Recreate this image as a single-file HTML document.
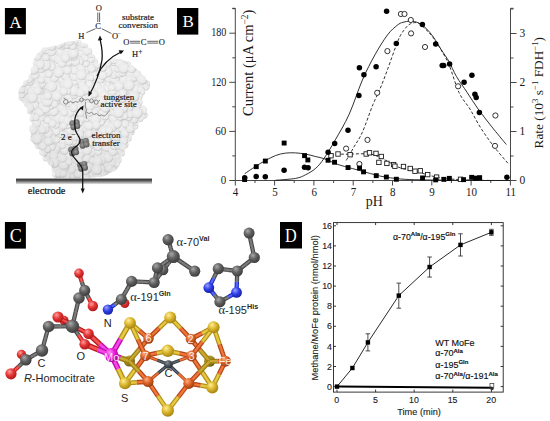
<!DOCTYPE html>
<html><head><meta charset="utf-8"><style>
html,body{margin:0;padding:0;background:#fff;width:550px;height:421px;overflow:hidden}
svg{display:block}
</style></head><body>
<svg width="550" height="421" viewBox="0 0 550 421">
<rect width="550" height="421" fill="#fff"/>
<rect x="4.9" y="8" width="21" height="26.3" fill="#000"/>
<text x="15.55" y="27.5" font-family='"Liberation Serif", serif' font-size="17.2" fill="#fff" text-anchor="middle">A</text>
<defs><radialGradient id="bub" cx="0.45" cy="0.42" r="0.6"><stop offset="0" stop-color="#f4f4f4"/><stop offset="0.7" stop-color="#ebebeb"/><stop offset="0.9" stop-color="#d4d4d4"/><stop offset="1" stop-color="#bcbcbc"/></radialGradient><clipPath id="blobclip"><path d="M65.5,42.0 C66.8,41.8 70.4,40.8 73.1,40.9 C75.8,41.0 79.6,41.6 81.8,42.5 C84.0,43.4 84.9,44.9 86.2,46.4 C87.5,47.9 88.4,50.0 89.5,51.8 C90.6,53.6 91.4,55.5 92.7,57.3 C94.0,59.1 95.8,61.3 97.1,62.7 C98.4,64.1 99.1,65.4 100.4,65.5 C101.7,65.6 103.2,64.2 105.0,63.5 C106.8,62.8 109.0,61.8 111.3,61.0 C113.5,60.2 116.0,58.9 118.5,59.0 C121.0,59.1 123.2,60.0 126.0,61.5 C128.8,63.0 132.9,66.1 135.6,68.3 C138.3,70.5 140.4,72.9 142.3,74.9 C144.2,77.0 145.9,79.0 147.0,80.6 C148.1,82.2 149.2,83.1 148.9,84.4 C148.6,85.7 146.4,86.9 145.1,88.2 C143.8,89.5 142.1,90.4 141.3,92.0 C140.5,93.6 140.2,95.2 140.4,97.7 C140.6,100.2 141.2,104.7 142.3,107.2 C143.4,109.7 146.5,111.1 147.0,112.6 C147.5,114.1 146.4,114.8 145.1,116.4 C143.8,118.0 141.0,119.9 139.4,122.1 C137.8,124.3 137.0,127.5 135.6,129.7 C134.2,131.9 132.2,133.2 130.9,135.4 C129.6,137.6 129.1,140.5 128.0,143.0 C126.9,145.5 125.5,148.1 124.2,150.6 C122.9,153.1 121.4,156.0 120.4,158.2 C119.5,160.4 119.1,162.0 118.5,163.9 C117.9,165.8 118.2,168.0 116.6,169.6 C115.0,171.2 111.5,172.2 109.0,173.4 C106.5,174.6 106.2,175.7 101.4,176.5 C96.6,177.3 86.9,177.8 80.0,178.0 C73.1,178.2 64.2,178.0 60.0,178.0 C55.8,178.0 55.5,179.0 54.7,178.2 C53.9,177.4 55.4,175.2 55.0,173.4 C54.6,171.7 53.5,169.6 52.3,167.7 C51.1,165.8 49.1,163.9 47.6,162.0 C46.1,160.1 44.7,158.2 43.5,156.3 C42.3,154.4 42.1,152.8 40.3,150.6 C38.5,148.4 34.4,145.8 32.8,143.0 C31.2,140.2 31.0,136.7 30.9,133.5 C30.8,130.3 32.0,127.1 31.9,124.0 C31.8,120.9 31.4,117.6 30.5,114.8 C29.6,112.0 27.9,109.7 26.2,107.2 C24.5,104.7 21.8,102.1 20.5,99.6 C19.2,97.1 18.5,94.2 18.6,92.0 C18.8,89.8 20.0,88.2 21.4,86.3 C22.8,84.4 25.5,82.8 27.1,80.6 C28.7,78.4 29.8,75.8 30.9,73.0 C32.0,70.2 33.2,66.0 33.8,63.5 C34.4,61.0 33.6,59.8 34.7,57.8 C35.8,55.8 38.2,52.9 40.4,51.2 C42.6,49.5 45.1,48.4 48.0,47.4 C50.9,46.4 54.6,46.4 57.5,45.5 C60.4,44.6 64.2,42.6 65.5,42.0"/></clipPath></defs>
<defs><filter id="soft" x="-5%" y="-5%" width="110%" height="110%"><feGaussianBlur stdDeviation="0.5"/></filter></defs>
<g filter="url(#soft)">
<g>
<circle cx="70.5" cy="44.5" r="3.3" fill="url(#bub)"/>
<circle cx="78.2" cy="43.5" r="3.4" fill="url(#bub)"/>
<circle cx="84.6" cy="46.8" r="3.5" fill="url(#bub)"/>
<circle cx="88.4" cy="51.6" r="3.8" fill="url(#bub)"/>
<circle cx="91.1" cy="57.9" r="4.2" fill="url(#bub)"/>
<circle cx="93.8" cy="62.3" r="4.0" fill="url(#bub)"/>
<circle cx="98.4" cy="67.4" r="3.0" fill="url(#bub)"/>
<circle cx="102.1" cy="66.8" r="4.3" fill="url(#bub)"/>
<circle cx="106.8" cy="65.4" r="3.1" fill="url(#bub)"/>
<circle cx="113.2" cy="61.8" r="3.8" fill="url(#bub)"/>
<circle cx="120.1" cy="62.7" r="3.5" fill="url(#bub)"/>
<circle cx="126.8" cy="65.0" r="4.0" fill="url(#bub)"/>
<circle cx="130.6" cy="68.8" r="3.7" fill="url(#bub)"/>
<circle cx="137.1" cy="74.0" r="3.7" fill="url(#bub)"/>
<circle cx="141.8" cy="79.0" r="3.7" fill="url(#bub)"/>
<circle cx="146.4" cy="83.9" r="3.7" fill="url(#bub)"/>
<circle cx="145.4" cy="86.5" r="4.0" fill="url(#bub)"/>
<circle cx="141.0" cy="91.7" r="4.1" fill="url(#bub)"/>
<circle cx="138.5" cy="95.9" r="4.3" fill="url(#bub)"/>
<circle cx="139.1" cy="101.9" r="3.4" fill="url(#bub)"/>
<circle cx="142.6" cy="109.6" r="4.2" fill="url(#bub)"/>
<circle cx="143.3" cy="114.8" r="4.3" fill="url(#bub)"/>
<circle cx="139.9" cy="118.3" r="3.7" fill="url(#bub)"/>
<circle cx="134.7" cy="126.0" r="3.6" fill="url(#bub)"/>
<circle cx="130.6" cy="131.4" r="3.9" fill="url(#bub)"/>
<circle cx="128.0" cy="138.0" r="3.7" fill="url(#bub)"/>
<circle cx="124.5" cy="144.5" r="3.9" fill="url(#bub)"/>
<circle cx="121.3" cy="153.0" r="3.6" fill="url(#bub)"/>
<circle cx="117.4" cy="159.8" r="4.1" fill="url(#bub)"/>
<circle cx="116.4" cy="163.9" r="3.2" fill="url(#bub)"/>
<circle cx="112.3" cy="168.6" r="3.3" fill="url(#bub)"/>
<circle cx="105.3" cy="171.8" r="3.5" fill="url(#bub)"/>
<circle cx="55.1" cy="173.7" r="3.2" fill="url(#bub)"/>
<circle cx="55.2" cy="168.2" r="3.6" fill="url(#bub)"/>
<circle cx="51.8" cy="161.7" r="3.9" fill="url(#bub)"/>
<circle cx="46.5" cy="157.4" r="3.9" fill="url(#bub)"/>
<circle cx="43.0" cy="152.0" r="3.8" fill="url(#bub)"/>
<circle cx="38.1" cy="145.5" r="3.2" fill="url(#bub)"/>
<circle cx="34.0" cy="137.9" r="3.9" fill="url(#bub)"/>
<circle cx="33.2" cy="128.8" r="4.1" fill="url(#bub)"/>
<circle cx="33.6" cy="118.4" r="3.9" fill="url(#bub)"/>
<circle cx="30.0" cy="110.9" r="3.1" fill="url(#bub)"/>
<circle cx="26.7" cy="103.3" r="3.1" fill="url(#bub)"/>
<circle cx="21.7" cy="97.2" r="3.2" fill="url(#bub)"/>
<circle cx="22.4" cy="90.1" r="3.4" fill="url(#bub)"/>
<circle cx="26.7" cy="83.6" r="3.6" fill="url(#bub)"/>
<circle cx="32.2" cy="78.1" r="4.0" fill="url(#bub)"/>
<circle cx="34.1" cy="70.3" r="3.3" fill="url(#bub)"/>
<circle cx="36.4" cy="63.4" r="3.6" fill="url(#bub)"/>
<circle cx="39.8" cy="56.1" r="3.5" fill="url(#bub)"/>
<circle cx="44.8" cy="51.0" r="3.8" fill="url(#bub)"/>
<circle cx="54.4" cy="49.2" r="3.8" fill="url(#bub)"/>
<circle cx="61.6" cy="46.7" r="3.0" fill="url(#bub)"/>
</g>
<g clip-path="url(#blobclip)">
<path d="M65.5,42.0 C66.8,41.8 70.4,40.8 73.1,40.9 C75.8,41.0 79.6,41.6 81.8,42.5 C84.0,43.4 84.9,44.9 86.2,46.4 C87.5,47.9 88.4,50.0 89.5,51.8 C90.6,53.6 91.4,55.5 92.7,57.3 C94.0,59.1 95.8,61.3 97.1,62.7 C98.4,64.1 99.1,65.4 100.4,65.5 C101.7,65.6 103.2,64.2 105.0,63.5 C106.8,62.8 109.0,61.8 111.3,61.0 C113.5,60.2 116.0,58.9 118.5,59.0 C121.0,59.1 123.2,60.0 126.0,61.5 C128.8,63.0 132.9,66.1 135.6,68.3 C138.3,70.5 140.4,72.9 142.3,74.9 C144.2,77.0 145.9,79.0 147.0,80.6 C148.1,82.2 149.2,83.1 148.9,84.4 C148.6,85.7 146.4,86.9 145.1,88.2 C143.8,89.5 142.1,90.4 141.3,92.0 C140.5,93.6 140.2,95.2 140.4,97.7 C140.6,100.2 141.2,104.7 142.3,107.2 C143.4,109.7 146.5,111.1 147.0,112.6 C147.5,114.1 146.4,114.8 145.1,116.4 C143.8,118.0 141.0,119.9 139.4,122.1 C137.8,124.3 137.0,127.5 135.6,129.7 C134.2,131.9 132.2,133.2 130.9,135.4 C129.6,137.6 129.1,140.5 128.0,143.0 C126.9,145.5 125.5,148.1 124.2,150.6 C122.9,153.1 121.4,156.0 120.4,158.2 C119.5,160.4 119.1,162.0 118.5,163.9 C117.9,165.8 118.2,168.0 116.6,169.6 C115.0,171.2 111.5,172.2 109.0,173.4 C106.5,174.6 106.2,175.7 101.4,176.5 C96.6,177.3 86.9,177.8 80.0,178.0 C73.1,178.2 64.2,178.0 60.0,178.0 C55.8,178.0 55.5,179.0 54.7,178.2 C53.9,177.4 55.4,175.2 55.0,173.4 C54.6,171.7 53.5,169.6 52.3,167.7 C51.1,165.8 49.1,163.9 47.6,162.0 C46.1,160.1 44.7,158.2 43.5,156.3 C42.3,154.4 42.1,152.8 40.3,150.6 C38.5,148.4 34.4,145.8 32.8,143.0 C31.2,140.2 31.0,136.7 30.9,133.5 C30.8,130.3 32.0,127.1 31.9,124.0 C31.8,120.9 31.4,117.6 30.5,114.8 C29.6,112.0 27.9,109.7 26.2,107.2 C24.5,104.7 21.8,102.1 20.5,99.6 C19.2,97.1 18.5,94.2 18.6,92.0 C18.8,89.8 20.0,88.2 21.4,86.3 C22.8,84.4 25.5,82.8 27.1,80.6 C28.7,78.4 29.8,75.8 30.9,73.0 C32.0,70.2 33.2,66.0 33.8,63.5 C34.4,61.0 33.6,59.8 34.7,57.8 C35.8,55.8 38.2,52.9 40.4,51.2 C42.6,49.5 45.1,48.4 48.0,47.4 C50.9,46.4 54.6,46.4 57.5,45.5 C60.4,44.6 64.2,42.6 65.5,42.0" fill="#e0e0e0"/>
<circle cx="54.6" cy="169.1" r="3.7" fill="url(#bub)"/>
<circle cx="111.9" cy="171.5" r="3.7" fill="url(#bub)"/>
<circle cx="42.6" cy="51.3" r="4.4" fill="url(#bub)"/>
<circle cx="88.9" cy="72.9" r="4.1" fill="url(#bub)"/>
<circle cx="36.8" cy="79.1" r="4.4" fill="url(#bub)"/>
<circle cx="77.4" cy="42.1" r="3.8" fill="url(#bub)"/>
<circle cx="44.6" cy="48.9" r="4.6" fill="url(#bub)"/>
<circle cx="76.2" cy="152.0" r="5.1" fill="url(#bub)"/>
<circle cx="68.4" cy="97.9" r="5.2" fill="url(#bub)"/>
<circle cx="63.1" cy="141.8" r="4.9" fill="url(#bub)"/>
<circle cx="69.6" cy="133.2" r="5.1" fill="url(#bub)"/>
<circle cx="119.4" cy="81.8" r="3.9" fill="url(#bub)"/>
<circle cx="139.2" cy="119.0" r="4.3" fill="url(#bub)"/>
<circle cx="46.1" cy="69.0" r="3.6" fill="url(#bub)"/>
<circle cx="100.8" cy="149.9" r="4.4" fill="url(#bub)"/>
<circle cx="86.3" cy="75.4" r="3.8" fill="url(#bub)"/>
<circle cx="40.1" cy="117.0" r="5.4" fill="url(#bub)"/>
<circle cx="19.3" cy="96.8" r="4.6" fill="url(#bub)"/>
<circle cx="45.4" cy="85.4" r="4.0" fill="url(#bub)"/>
<circle cx="31.5" cy="83.5" r="5.0" fill="url(#bub)"/>
<circle cx="119.1" cy="139.4" r="4.2" fill="url(#bub)"/>
<circle cx="78.6" cy="57.9" r="4.9" fill="url(#bub)"/>
<circle cx="109.0" cy="77.8" r="5.0" fill="url(#bub)"/>
<circle cx="121.5" cy="59.4" r="4.2" fill="url(#bub)"/>
<circle cx="70.4" cy="72.9" r="4.5" fill="url(#bub)"/>
<circle cx="83.8" cy="164.6" r="3.4" fill="url(#bub)"/>
<circle cx="57.9" cy="65.7" r="5.2" fill="url(#bub)"/>
<circle cx="54.6" cy="73.0" r="4.9" fill="url(#bub)"/>
<circle cx="41.3" cy="125.9" r="5.0" fill="url(#bub)"/>
<circle cx="92.8" cy="131.5" r="3.5" fill="url(#bub)"/>
<circle cx="23.1" cy="96.0" r="5.4" fill="url(#bub)"/>
<circle cx="96.5" cy="79.8" r="3.9" fill="url(#bub)"/>
<circle cx="105.6" cy="151.4" r="3.5" fill="url(#bub)"/>
<circle cx="84.1" cy="83.7" r="4.0" fill="url(#bub)"/>
<circle cx="114.8" cy="157.5" r="4.7" fill="url(#bub)"/>
<circle cx="85.8" cy="101.4" r="5.0" fill="url(#bub)"/>
<circle cx="59.4" cy="82.1" r="4.3" fill="url(#bub)"/>
<circle cx="105.9" cy="63.2" r="5.4" fill="url(#bub)"/>
<circle cx="117.2" cy="128.7" r="4.2" fill="url(#bub)"/>
<circle cx="42.6" cy="75.2" r="4.9" fill="url(#bub)"/>
<circle cx="60.1" cy="145.4" r="3.3" fill="url(#bub)"/>
<circle cx="105.5" cy="123.3" r="5.0" fill="url(#bub)"/>
<circle cx="53.8" cy="116.8" r="4.5" fill="url(#bub)"/>
<circle cx="35.6" cy="113.1" r="4.1" fill="url(#bub)"/>
<circle cx="102.4" cy="119.2" r="4.0" fill="url(#bub)"/>
<circle cx="119.8" cy="92.1" r="4.4" fill="url(#bub)"/>
<circle cx="89.6" cy="177.9" r="5.1" fill="url(#bub)"/>
<circle cx="100.8" cy="122.3" r="3.8" fill="url(#bub)"/>
<circle cx="51.8" cy="136.5" r="3.8" fill="url(#bub)"/>
<circle cx="97.7" cy="141.4" r="5.2" fill="url(#bub)"/>
<circle cx="79.5" cy="168.8" r="4.6" fill="url(#bub)"/>
<circle cx="75.1" cy="161.2" r="3.6" fill="url(#bub)"/>
<circle cx="57.7" cy="157.2" r="5.2" fill="url(#bub)"/>
<circle cx="89.0" cy="158.0" r="5.3" fill="url(#bub)"/>
<circle cx="40.6" cy="83.5" r="5.4" fill="url(#bub)"/>
<circle cx="56.9" cy="86.2" r="3.9" fill="url(#bub)"/>
<circle cx="26.2" cy="102.5" r="4.0" fill="url(#bub)"/>
<circle cx="122.8" cy="84.5" r="3.8" fill="url(#bub)"/>
<circle cx="107.0" cy="84.8" r="3.3" fill="url(#bub)"/>
<circle cx="89.7" cy="144.4" r="5.1" fill="url(#bub)"/>
<circle cx="19.7" cy="90.5" r="5.1" fill="url(#bub)"/>
<circle cx="60.0" cy="52.3" r="5.4" fill="url(#bub)"/>
<circle cx="94.2" cy="61.0" r="4.2" fill="url(#bub)"/>
<circle cx="75.6" cy="103.5" r="4.8" fill="url(#bub)"/>
<circle cx="96.7" cy="155.0" r="3.9" fill="url(#bub)"/>
<circle cx="87.2" cy="133.2" r="5.3" fill="url(#bub)"/>
<circle cx="88.8" cy="167.0" r="4.2" fill="url(#bub)"/>
<circle cx="119.1" cy="157.9" r="4.6" fill="url(#bub)"/>
<circle cx="68.3" cy="62.2" r="4.0" fill="url(#bub)"/>
<circle cx="62.2" cy="45.5" r="4.0" fill="url(#bub)"/>
<circle cx="91.1" cy="152.6" r="4.3" fill="url(#bub)"/>
<circle cx="137.8" cy="126.5" r="5.1" fill="url(#bub)"/>
<circle cx="142.3" cy="111.5" r="5.1" fill="url(#bub)"/>
<circle cx="100.0" cy="169.5" r="5.1" fill="url(#bub)"/>
<circle cx="113.8" cy="68.0" r="3.8" fill="url(#bub)"/>
<circle cx="61.9" cy="127.4" r="3.3" fill="url(#bub)"/>
<circle cx="130.1" cy="138.9" r="4.9" fill="url(#bub)"/>
<circle cx="123.4" cy="79.5" r="5.6" fill="url(#bub)"/>
<circle cx="118.4" cy="103.4" r="5.2" fill="url(#bub)"/>
<circle cx="84.8" cy="70.5" r="4.9" fill="url(#bub)"/>
<circle cx="51.8" cy="95.0" r="3.2" fill="url(#bub)"/>
<circle cx="96.2" cy="108.9" r="4.2" fill="url(#bub)"/>
<circle cx="29.7" cy="101.4" r="5.1" fill="url(#bub)"/>
<circle cx="87.2" cy="125.2" r="4.9" fill="url(#bub)"/>
<circle cx="82.2" cy="118.8" r="4.1" fill="url(#bub)"/>
<circle cx="113.5" cy="118.2" r="4.4" fill="url(#bub)"/>
<circle cx="114.4" cy="62.4" r="3.6" fill="url(#bub)"/>
<circle cx="67.8" cy="51.3" r="3.7" fill="url(#bub)"/>
<circle cx="142.4" cy="109.6" r="4.4" fill="url(#bub)"/>
<circle cx="30.3" cy="128.5" r="3.8" fill="url(#bub)"/>
<circle cx="34.1" cy="100.7" r="5.0" fill="url(#bub)"/>
<circle cx="107.5" cy="100.8" r="5.1" fill="url(#bub)"/>
<circle cx="138.4" cy="86.4" r="5.3" fill="url(#bub)"/>
<circle cx="81.1" cy="147.9" r="4.5" fill="url(#bub)"/>
<circle cx="31.9" cy="111.6" r="3.7" fill="url(#bub)"/>
<circle cx="89.8" cy="141.5" r="5.3" fill="url(#bub)"/>
<circle cx="54.3" cy="57.4" r="4.3" fill="url(#bub)"/>
<circle cx="58.4" cy="59.8" r="4.2" fill="url(#bub)"/>
<circle cx="115.0" cy="97.0" r="3.8" fill="url(#bub)"/>
<circle cx="74.5" cy="84.3" r="5.4" fill="url(#bub)"/>
<circle cx="73.8" cy="145.0" r="3.7" fill="url(#bub)"/>
<circle cx="113.6" cy="134.3" r="4.0" fill="url(#bub)"/>
<circle cx="95.2" cy="127.8" r="3.3" fill="url(#bub)"/>
<circle cx="93.1" cy="64.8" r="5.5" fill="url(#bub)"/>
<circle cx="49.0" cy="144.7" r="4.8" fill="url(#bub)"/>
<circle cx="122.4" cy="114.6" r="5.6" fill="url(#bub)"/>
<circle cx="56.3" cy="113.4" r="4.5" fill="url(#bub)"/>
<circle cx="74.6" cy="82.0" r="3.5" fill="url(#bub)"/>
<circle cx="108.4" cy="164.1" r="5.0" fill="url(#bub)"/>
<circle cx="68.6" cy="145.7" r="4.9" fill="url(#bub)"/>
<circle cx="48.7" cy="78.7" r="5.5" fill="url(#bub)"/>
<circle cx="56.2" cy="149.9" r="3.8" fill="url(#bub)"/>
<circle cx="39.3" cy="135.0" r="4.4" fill="url(#bub)"/>
<circle cx="93.2" cy="175.1" r="4.4" fill="url(#bub)"/>
<circle cx="53.8" cy="168.3" r="3.9" fill="url(#bub)"/>
<circle cx="51.3" cy="65.5" r="4.2" fill="url(#bub)"/>
<circle cx="103.9" cy="63.3" r="5.5" fill="url(#bub)"/>
<circle cx="79.4" cy="130.9" r="5.2" fill="url(#bub)"/>
<circle cx="86.0" cy="63.6" r="3.4" fill="url(#bub)"/>
<circle cx="105.7" cy="70.5" r="5.3" fill="url(#bub)"/>
<circle cx="87.2" cy="127.6" r="5.3" fill="url(#bub)"/>
<circle cx="73.7" cy="167.7" r="5.3" fill="url(#bub)"/>
<circle cx="96.5" cy="91.8" r="4.2" fill="url(#bub)"/>
<circle cx="113.9" cy="125.5" r="4.9" fill="url(#bub)"/>
<circle cx="130.5" cy="73.2" r="5.0" fill="url(#bub)"/>
<circle cx="84.9" cy="106.2" r="4.9" fill="url(#bub)"/>
<circle cx="56.1" cy="170.1" r="4.9" fill="url(#bub)"/>
<circle cx="88.8" cy="125.5" r="5.0" fill="url(#bub)"/>
<circle cx="118.7" cy="166.0" r="3.9" fill="url(#bub)"/>
<circle cx="137.7" cy="71.0" r="5.3" fill="url(#bub)"/>
<circle cx="133.5" cy="131.7" r="3.6" fill="url(#bub)"/>
<circle cx="37.2" cy="145.4" r="3.7" fill="url(#bub)"/>
<circle cx="120.2" cy="116.9" r="3.7" fill="url(#bub)"/>
<circle cx="85.9" cy="157.6" r="5.1" fill="url(#bub)"/>
<circle cx="127.8" cy="100.6" r="5.5" fill="url(#bub)"/>
<circle cx="31.8" cy="138.3" r="4.1" fill="url(#bub)"/>
<circle cx="103.7" cy="133.8" r="4.3" fill="url(#bub)"/>
<circle cx="96.8" cy="172.5" r="5.1" fill="url(#bub)"/>
<circle cx="114.5" cy="78.3" r="5.4" fill="url(#bub)"/>
<circle cx="80.7" cy="153.2" r="5.1" fill="url(#bub)"/>
<circle cx="55.9" cy="70.0" r="4.5" fill="url(#bub)"/>
<circle cx="62.5" cy="78.7" r="5.5" fill="url(#bub)"/>
<circle cx="81.5" cy="52.4" r="4.8" fill="url(#bub)"/>
<circle cx="102.3" cy="144.8" r="5.5" fill="url(#bub)"/>
<circle cx="72.8" cy="174.1" r="5.1" fill="url(#bub)"/>
<circle cx="84.4" cy="46.3" r="4.1" fill="url(#bub)"/>
<circle cx="84.9" cy="98.2" r="3.3" fill="url(#bub)"/>
<circle cx="74.5" cy="76.0" r="5.1" fill="url(#bub)"/>
<circle cx="146.5" cy="85.2" r="3.5" fill="url(#bub)"/>
<circle cx="24.3" cy="104.7" r="4.3" fill="url(#bub)"/>
<circle cx="92.6" cy="160.9" r="3.2" fill="url(#bub)"/>
<circle cx="140.4" cy="75.3" r="5.0" fill="url(#bub)"/>
<circle cx="130.9" cy="89.8" r="3.7" fill="url(#bub)"/>
<circle cx="113.7" cy="104.2" r="3.4" fill="url(#bub)"/>
<circle cx="46.4" cy="156.9" r="4.5" fill="url(#bub)"/>
<circle cx="99.8" cy="155.6" r="5.4" fill="url(#bub)"/>
<circle cx="118.0" cy="162.3" r="4.5" fill="url(#bub)"/>
<circle cx="101.6" cy="85.1" r="4.5" fill="url(#bub)"/>
<circle cx="136.5" cy="87.1" r="3.3" fill="url(#bub)"/>
<circle cx="48.8" cy="91.6" r="3.9" fill="url(#bub)"/>
<circle cx="58.6" cy="117.9" r="5.3" fill="url(#bub)"/>
<circle cx="140.7" cy="96.1" r="3.9" fill="url(#bub)"/>
<circle cx="74.0" cy="119.8" r="3.8" fill="url(#bub)"/>
<circle cx="114.5" cy="169.4" r="4.8" fill="url(#bub)"/>
<circle cx="111.2" cy="163.1" r="4.9" fill="url(#bub)"/>
<circle cx="48.7" cy="111.0" r="4.5" fill="url(#bub)"/>
<circle cx="39.5" cy="92.2" r="3.8" fill="url(#bub)"/>
<circle cx="136.7" cy="121.9" r="3.8" fill="url(#bub)"/>
<circle cx="79.7" cy="61.4" r="4.0" fill="url(#bub)"/>
<circle cx="120.1" cy="149.3" r="5.2" fill="url(#bub)"/>
<circle cx="144.2" cy="90.2" r="3.9" fill="url(#bub)"/>
<circle cx="68.0" cy="106.7" r="5.5" fill="url(#bub)"/>
<circle cx="95.0" cy="103.7" r="4.6" fill="url(#bub)"/>
<circle cx="106.9" cy="146.6" r="5.2" fill="url(#bub)"/>
<circle cx="75.5" cy="61.4" r="4.5" fill="url(#bub)"/>
<circle cx="109.1" cy="168.3" r="3.9" fill="url(#bub)"/>
<circle cx="31.5" cy="120.5" r="3.8" fill="url(#bub)"/>
<circle cx="103.5" cy="130.9" r="4.7" fill="url(#bub)"/>
<circle cx="65.2" cy="75.1" r="5.0" fill="url(#bub)"/>
<circle cx="103.7" cy="107.3" r="3.6" fill="url(#bub)"/>
<circle cx="34.7" cy="105.4" r="4.0" fill="url(#bub)"/>
<circle cx="145.9" cy="85.9" r="3.2" fill="url(#bub)"/>
<circle cx="39.7" cy="140.0" r="5.6" fill="url(#bub)"/>
<circle cx="144.8" cy="113.3" r="4.7" fill="url(#bub)"/>
<circle cx="81.6" cy="47.5" r="3.6" fill="url(#bub)"/>
<circle cx="130.1" cy="98.5" r="3.3" fill="url(#bub)"/>
<circle cx="79.4" cy="134.6" r="4.1" fill="url(#bub)"/>
<circle cx="98.3" cy="135.0" r="4.1" fill="url(#bub)"/>
<circle cx="73.1" cy="55.8" r="5.1" fill="url(#bub)"/>
<circle cx="129.9" cy="79.4" r="4.2" fill="url(#bub)"/>
<circle cx="114.1" cy="74.5" r="4.5" fill="url(#bub)"/>
<circle cx="73.6" cy="41.0" r="4.8" fill="url(#bub)"/>
<circle cx="54.5" cy="152.2" r="3.8" fill="url(#bub)"/>
<circle cx="101.7" cy="113.0" r="3.3" fill="url(#bub)"/>
<circle cx="98.2" cy="151.7" r="3.8" fill="url(#bub)"/>
<circle cx="36.3" cy="123.3" r="4.7" fill="url(#bub)"/>
<circle cx="69.6" cy="43.7" r="5.2" fill="url(#bub)"/>
<circle cx="78.5" cy="173.9" r="4.0" fill="url(#bub)"/>
<circle cx="45.9" cy="125.8" r="3.3" fill="url(#bub)"/>
<circle cx="86.7" cy="118.2" r="3.6" fill="url(#bub)"/>
<circle cx="46.4" cy="50.4" r="3.3" fill="url(#bub)"/>
<circle cx="89.7" cy="100.9" r="3.8" fill="url(#bub)"/>
<circle cx="79.4" cy="98.3" r="3.7" fill="url(#bub)"/>
<circle cx="127.8" cy="107.5" r="5.1" fill="url(#bub)"/>
<circle cx="108.0" cy="157.7" r="5.1" fill="url(#bub)"/>
<circle cx="67.7" cy="80.4" r="3.5" fill="url(#bub)"/>
<circle cx="85.7" cy="57.2" r="4.4" fill="url(#bub)"/>
<circle cx="37.9" cy="95.7" r="3.6" fill="url(#bub)"/>
<circle cx="106.3" cy="89.0" r="4.0" fill="url(#bub)"/>
<circle cx="74.3" cy="112.7" r="3.3" fill="url(#bub)"/>
<circle cx="71.1" cy="169.5" r="4.6" fill="url(#bub)"/>
<circle cx="40.7" cy="68.1" r="5.0" fill="url(#bub)"/>
<circle cx="26.8" cy="87.4" r="4.5" fill="url(#bub)"/>
<circle cx="84.3" cy="147.3" r="4.1" fill="url(#bub)"/>
<circle cx="23.5" cy="91.1" r="4.8" fill="url(#bub)"/>
<circle cx="80.0" cy="69.8" r="5.6" fill="url(#bub)"/>
<circle cx="86.7" cy="114.2" r="4.3" fill="url(#bub)"/>
<circle cx="87.2" cy="169.4" r="3.9" fill="url(#bub)"/>
<circle cx="34.7" cy="136.2" r="5.5" fill="url(#bub)"/>
<circle cx="50.9" cy="89.9" r="4.7" fill="url(#bub)"/>
<circle cx="94.8" cy="62.5" r="3.3" fill="url(#bub)"/>
<circle cx="74.2" cy="94.5" r="4.3" fill="url(#bub)"/>
<circle cx="35.8" cy="86.6" r="4.7" fill="url(#bub)"/>
<circle cx="32.4" cy="92.0" r="4.8" fill="url(#bub)"/>
<circle cx="124.8" cy="147.7" r="4.2" fill="url(#bub)"/>
<circle cx="92.1" cy="116.5" r="5.2" fill="url(#bub)"/>
<circle cx="40.4" cy="100.1" r="3.3" fill="url(#bub)"/>
<circle cx="149.4" cy="81.0" r="5.1" fill="url(#bub)"/>
<circle cx="94.9" cy="112.7" r="3.4" fill="url(#bub)"/>
<circle cx="109.3" cy="95.8" r="3.9" fill="url(#bub)"/>
<circle cx="91.2" cy="59.3" r="3.5" fill="url(#bub)"/>
<circle cx="32.9" cy="60.7" r="5.4" fill="url(#bub)"/>
<circle cx="76.6" cy="157.7" r="5.1" fill="url(#bub)"/>
<circle cx="70.8" cy="152.8" r="3.6" fill="url(#bub)"/>
<circle cx="52.0" cy="147.2" r="3.5" fill="url(#bub)"/>
<circle cx="40.6" cy="56.9" r="4.6" fill="url(#bub)"/>
<circle cx="86.4" cy="78.8" r="5.4" fill="url(#bub)"/>
<circle cx="79.3" cy="156.2" r="3.9" fill="url(#bub)"/>
<circle cx="81.4" cy="80.0" r="5.3" fill="url(#bub)"/>
<circle cx="141.6" cy="101.4" r="3.9" fill="url(#bub)"/>
<circle cx="38.9" cy="53.7" r="4.3" fill="url(#bub)"/>
<circle cx="106.8" cy="63.4" r="4.8" fill="url(#bub)"/>
<circle cx="132.3" cy="66.4" r="5.4" fill="url(#bub)"/>
<circle cx="58.9" cy="89.3" r="3.4" fill="url(#bub)"/>
<circle cx="123.3" cy="155.5" r="4.5" fill="url(#bub)"/>
<circle cx="54.4" cy="77.9" r="4.3" fill="url(#bub)"/>
<circle cx="114.0" cy="59.9" r="4.1" fill="url(#bub)"/>
<circle cx="108.1" cy="111.2" r="5.0" fill="url(#bub)"/>
<circle cx="36.9" cy="131.1" r="4.2" fill="url(#bub)"/>
<circle cx="88.9" cy="133.7" r="3.8" fill="url(#bub)"/>
<circle cx="63.8" cy="85.0" r="3.6" fill="url(#bub)"/>
<circle cx="134.0" cy="78.0" r="3.4" fill="url(#bub)"/>
<circle cx="95.4" cy="119.1" r="5.6" fill="url(#bub)"/>
<circle cx="144.0" cy="109.4" r="4.1" fill="url(#bub)"/>
<circle cx="118.3" cy="164.4" r="3.8" fill="url(#bub)"/>
<circle cx="119.2" cy="72.6" r="5.0" fill="url(#bub)"/>
<circle cx="89.7" cy="105.3" r="5.4" fill="url(#bub)"/>
<circle cx="133.8" cy="118.9" r="4.6" fill="url(#bub)"/>
<circle cx="125.8" cy="100.0" r="3.9" fill="url(#bub)"/>
<circle cx="114.8" cy="105.7" r="4.7" fill="url(#bub)"/>
<circle cx="62.1" cy="68.9" r="5.4" fill="url(#bub)"/>
<circle cx="89.2" cy="84.4" r="3.8" fill="url(#bub)"/>
<circle cx="69.0" cy="156.0" r="4.4" fill="url(#bub)"/>
<circle cx="57.8" cy="160.4" r="4.1" fill="url(#bub)"/>
<circle cx="28.6" cy="111.7" r="3.8" fill="url(#bub)"/>
<circle cx="56.2" cy="100.2" r="4.4" fill="url(#bub)"/>
<circle cx="104.8" cy="175.2" r="3.5" fill="url(#bub)"/>
<circle cx="78.3" cy="103.5" r="3.9" fill="url(#bub)"/>
<circle cx="32.3" cy="117.2" r="3.8" fill="url(#bub)"/>
<circle cx="58.2" cy="108.1" r="3.4" fill="url(#bub)"/>
<circle cx="53.6" cy="111.0" r="5.2" fill="url(#bub)"/>
<circle cx="45.8" cy="159.4" r="4.5" fill="url(#bub)"/>
<circle cx="113.0" cy="151.5" r="4.5" fill="url(#bub)"/>
<circle cx="31.9" cy="133.5" r="3.2" fill="url(#bub)"/>
<circle cx="130.1" cy="126.0" r="3.7" fill="url(#bub)"/>
<circle cx="61.8" cy="98.5" r="3.7" fill="url(#bub)"/>
<circle cx="112.6" cy="141.7" r="4.9" fill="url(#bub)"/>
<circle cx="60.0" cy="134.0" r="3.7" fill="url(#bub)"/>
<circle cx="102.8" cy="141.1" r="4.3" fill="url(#bub)"/>
<circle cx="37.2" cy="90.8" r="4.5" fill="url(#bub)"/>
<circle cx="69.1" cy="55.9" r="4.3" fill="url(#bub)"/>
<circle cx="65.6" cy="54.5" r="4.1" fill="url(#bub)"/>
<circle cx="67.0" cy="44.8" r="3.6" fill="url(#bub)"/>
<circle cx="39.8" cy="111.9" r="4.9" fill="url(#bub)"/>
<circle cx="144.9" cy="79.0" r="4.4" fill="url(#bub)"/>
<circle cx="88.0" cy="48.0" r="5.2" fill="url(#bub)"/>
<circle cx="64.9" cy="167.3" r="4.7" fill="url(#bub)"/>
<circle cx="63.9" cy="164.4" r="5.6" fill="url(#bub)"/>
<circle cx="119.5" cy="95.7" r="3.9" fill="url(#bub)"/>
<circle cx="34.5" cy="67.0" r="3.7" fill="url(#bub)"/>
<circle cx="96.8" cy="87.2" r="5.0" fill="url(#bub)"/>
<circle cx="135.4" cy="103.9" r="4.1" fill="url(#bub)"/>
<circle cx="121.9" cy="128.4" r="3.9" fill="url(#bub)"/>
<circle cx="69.4" cy="112.7" r="4.8" fill="url(#bub)"/>
<circle cx="94.8" cy="76.0" r="4.5" fill="url(#bub)"/>
<circle cx="60.1" cy="42.7" r="5.4" fill="url(#bub)"/>
<circle cx="125.3" cy="124.1" r="3.8" fill="url(#bub)"/>
<circle cx="90.9" cy="77.9" r="3.2" fill="url(#bub)"/>
<circle cx="32.2" cy="97.5" r="5.6" fill="url(#bub)"/>
<circle cx="89.6" cy="112.9" r="3.5" fill="url(#bub)"/>
<circle cx="42.5" cy="152.3" r="5.2" fill="url(#bub)"/>
<circle cx="128.9" cy="116.8" r="4.1" fill="url(#bub)"/>
<circle cx="58.6" cy="45.1" r="3.4" fill="url(#bub)"/>
<circle cx="90.6" cy="97.9" r="5.0" fill="url(#bub)"/>
<circle cx="100.6" cy="160.5" r="5.1" fill="url(#bub)"/>
<circle cx="142.2" cy="118.6" r="3.9" fill="url(#bub)"/>
<circle cx="69.8" cy="130.1" r="4.9" fill="url(#bub)"/>
<circle cx="96.3" cy="125.1" r="4.3" fill="url(#bub)"/>
<circle cx="62.0" cy="108.4" r="4.2" fill="url(#bub)"/>
<circle cx="130.7" cy="135.3" r="3.5" fill="url(#bub)"/>
<circle cx="136.1" cy="90.1" r="5.5" fill="url(#bub)"/>
<circle cx="47.6" cy="149.4" r="3.2" fill="url(#bub)"/>
<circle cx="71.1" cy="177.0" r="3.5" fill="url(#bub)"/>
<circle cx="130.5" cy="114.4" r="3.7" fill="url(#bub)"/>
<circle cx="114.2" cy="113.1" r="3.3" fill="url(#bub)"/>
<circle cx="29.4" cy="107.9" r="4.8" fill="url(#bub)"/>
<circle cx="94.5" cy="67.4" r="3.4" fill="url(#bub)"/>
<circle cx="62.6" cy="158.4" r="4.2" fill="url(#bub)"/>
<circle cx="53.9" cy="174.6" r="4.0" fill="url(#bub)"/>
<circle cx="100.9" cy="91.7" r="5.4" fill="url(#bub)"/>
<circle cx="64.7" cy="150.8" r="3.6" fill="url(#bub)"/>
<circle cx="107.5" cy="72.3" r="5.1" fill="url(#bub)"/>
<circle cx="111.2" cy="127.7" r="5.0" fill="url(#bub)"/>
<circle cx="79.6" cy="109.1" r="5.6" fill="url(#bub)"/>
<circle cx="124.7" cy="116.4" r="3.2" fill="url(#bub)"/>
<circle cx="117.6" cy="68.8" r="3.6" fill="url(#bub)"/>
<circle cx="97.5" cy="161.4" r="5.0" fill="url(#bub)"/>
<circle cx="54.3" cy="127.9" r="3.3" fill="url(#bub)"/>
<circle cx="117.9" cy="107.5" r="3.6" fill="url(#bub)"/>
<circle cx="48.6" cy="48.3" r="4.1" fill="url(#bub)"/>
<circle cx="74.5" cy="70.5" r="4.1" fill="url(#bub)"/>
<circle cx="123.0" cy="107.6" r="5.4" fill="url(#bub)"/>
<circle cx="48.7" cy="74.0" r="4.0" fill="url(#bub)"/>
<circle cx="81.1" cy="142.3" r="4.2" fill="url(#bub)"/>
<circle cx="72.9" cy="141.0" r="4.2" fill="url(#bub)"/>
<circle cx="145.5" cy="110.5" r="3.9" fill="url(#bub)"/>
<circle cx="63.7" cy="118.9" r="5.3" fill="url(#bub)"/>
<circle cx="51.8" cy="66.9" r="3.8" fill="url(#bub)"/>
<circle cx="75.1" cy="125.4" r="3.6" fill="url(#bub)"/>
<circle cx="91.9" cy="90.2" r="3.3" fill="url(#bub)"/>
<circle cx="101.7" cy="175.5" r="5.0" fill="url(#bub)"/>
<circle cx="37.0" cy="138.7" r="5.5" fill="url(#bub)"/>
<circle cx="67.0" cy="175.7" r="4.1" fill="url(#bub)"/>
<circle cx="114.4" cy="145.9" r="3.9" fill="url(#bub)"/>
<circle cx="81.4" cy="74.9" r="5.3" fill="url(#bub)"/>
<circle cx="77.9" cy="160.3" r="4.8" fill="url(#bub)"/>
<circle cx="97.9" cy="146.6" r="4.3" fill="url(#bub)"/>
<circle cx="133.8" cy="96.4" r="5.5" fill="url(#bub)"/>
<circle cx="137.1" cy="106.2" r="3.5" fill="url(#bub)"/>
<circle cx="122.9" cy="72.6" r="3.8" fill="url(#bub)"/>
<circle cx="118.7" cy="144.4" r="5.2" fill="url(#bub)"/>
<circle cx="82.2" cy="85.3" r="3.5" fill="url(#bub)"/>
<circle cx="91.6" cy="68.6" r="4.0" fill="url(#bub)"/>
<circle cx="68.6" cy="102.5" r="4.8" fill="url(#bub)"/>
<circle cx="58.9" cy="172.9" r="4.6" fill="url(#bub)"/>
<circle cx="50.6" cy="105.7" r="4.1" fill="url(#bub)"/>
<circle cx="67.7" cy="124.5" r="4.4" fill="url(#bub)"/>
<circle cx="45.4" cy="65.2" r="5.5" fill="url(#bub)"/>
<circle cx="62.5" cy="145.6" r="3.2" fill="url(#bub)"/>
<circle cx="143.3" cy="78.4" r="4.1" fill="url(#bub)"/>
<circle cx="54.2" cy="104.1" r="3.8" fill="url(#bub)"/>
<circle cx="107.6" cy="136.1" r="5.0" fill="url(#bub)"/>
<circle cx="62.0" cy="63.2" r="4.4" fill="url(#bub)"/>
<circle cx="56.3" cy="131.4" r="4.0" fill="url(#bub)"/>
<circle cx="137.1" cy="74.5" r="4.1" fill="url(#bub)"/>
<circle cx="51.5" cy="51.4" r="4.9" fill="url(#bub)"/>
<circle cx="36.7" cy="64.7" r="5.4" fill="url(#bub)"/>
<circle cx="21.6" cy="94.9" r="3.3" fill="url(#bub)"/>
<circle cx="51.6" cy="86.6" r="5.5" fill="url(#bub)"/>
<circle cx="112.7" cy="91.8" r="3.7" fill="url(#bub)"/>
<circle cx="73.6" cy="90.8" r="5.5" fill="url(#bub)"/>
<circle cx="105.3" cy="116.4" r="3.6" fill="url(#bub)"/>
<circle cx="103.8" cy="95.4" r="5.0" fill="url(#bub)"/>
<circle cx="75.5" cy="127.6" r="4.6" fill="url(#bub)"/>
<circle cx="94.5" cy="94.5" r="3.4" fill="url(#bub)"/>
<circle cx="118.5" cy="86.1" r="5.3" fill="url(#bub)"/>
<circle cx="29.5" cy="80.8" r="4.9" fill="url(#bub)"/>
<circle cx="64.4" cy="101.8" r="3.8" fill="url(#bub)"/>
<circle cx="84.7" cy="177.2" r="4.9" fill="url(#bub)"/>
<circle cx="73.7" cy="107.8" r="4.1" fill="url(#bub)"/>
<circle cx="48.3" cy="133.6" r="4.4" fill="url(#bub)"/>
<circle cx="42.3" cy="106.1" r="3.9" fill="url(#bub)"/>
<circle cx="28.8" cy="78.2" r="5.1" fill="url(#bub)"/>
<circle cx="56.1" cy="125.2" r="3.2" fill="url(#bub)"/>
<circle cx="100.4" cy="79.3" r="4.0" fill="url(#bub)"/>
<circle cx="85.6" cy="171.4" r="3.3" fill="url(#bub)"/>
<circle cx="121.8" cy="97.6" r="5.4" fill="url(#bub)"/>
<circle cx="90.4" cy="54.3" r="3.8" fill="url(#bub)"/>
<circle cx="73.2" cy="53.0" r="5.4" fill="url(#bub)"/>
<circle cx="57.0" cy="95.8" r="5.5" fill="url(#bub)"/>
<circle cx="47.8" cy="120.2" r="3.6" fill="url(#bub)"/>
<circle cx="67.3" cy="120.7" r="4.7" fill="url(#bub)"/>
<circle cx="125.1" cy="133.5" r="4.3" fill="url(#bub)"/>
<circle cx="43.4" cy="97.6" r="3.3" fill="url(#bub)"/>
<circle cx="63.1" cy="173.6" r="3.6" fill="url(#bub)"/>
<circle cx="137.1" cy="113.0" r="5.5" fill="url(#bub)"/>
<circle cx="101.2" cy="101.5" r="5.6" fill="url(#bub)"/>
<circle cx="53.7" cy="155.7" r="4.2" fill="url(#bub)"/>
<circle cx="45.7" cy="130.0" r="3.4" fill="url(#bub)"/>
<circle cx="142.0" cy="79.1" r="5.4" fill="url(#bub)"/>
<circle cx="45.7" cy="108.8" r="4.5" fill="url(#bub)"/>
<circle cx="42.9" cy="146.1" r="4.2" fill="url(#bub)"/>
<circle cx="67.5" cy="84.2" r="5.4" fill="url(#bub)"/>
<circle cx="108.9" cy="130.1" r="3.9" fill="url(#bub)"/>
<circle cx="87.0" cy="150.2" r="4.9" fill="url(#bub)"/>
<circle cx="117.0" cy="136.5" r="4.8" fill="url(#bub)"/>
<circle cx="51.5" cy="46.2" r="4.5" fill="url(#bub)"/>
<circle cx="97.8" cy="64.1" r="4.1" fill="url(#bub)"/>
<circle cx="42.5" cy="129.8" r="3.9" fill="url(#bub)"/>
<circle cx="68.9" cy="162.1" r="3.4" fill="url(#bub)"/>
<circle cx="122.2" cy="61.6" r="4.9" fill="url(#bub)"/>
<circle cx="53.9" cy="162.8" r="5.4" fill="url(#bub)"/>
<circle cx="129.1" cy="85.3" r="5.5" fill="url(#bub)"/>
<circle cx="84.3" cy="89.9" r="5.5" fill="url(#bub)"/>
<circle cx="113.8" cy="171.1" r="3.8" fill="url(#bub)"/>
<circle cx="130.4" cy="128.9" r="4.0" fill="url(#bub)"/>
<circle cx="105.4" cy="107.7" r="4.7" fill="url(#bub)"/>
<circle cx="140.5" cy="89.6" r="3.7" fill="url(#bub)"/>
<circle cx="58.6" cy="72.5" r="5.2" fill="url(#bub)"/>
<circle cx="52.6" cy="123.6" r="3.8" fill="url(#bub)"/>
<circle cx="34.8" cy="74.9" r="4.5" fill="url(#bub)"/>
<circle cx="80.5" cy="113.0" r="3.8" fill="url(#bub)"/>
<circle cx="102.6" cy="75.1" r="4.8" fill="url(#bub)"/>
<circle cx="117.5" cy="124.2" r="4.2" fill="url(#bub)"/>
<circle cx="64.4" cy="135.0" r="3.5" fill="url(#bub)"/>
<circle cx="36.0" cy="117.7" r="3.3" fill="url(#bub)"/>
<circle cx="120.3" cy="63.8" r="4.9" fill="url(#bub)"/>
<circle cx="67.8" cy="91.4" r="3.2" fill="url(#bub)"/>
<circle cx="63.7" cy="125.9" r="3.5" fill="url(#bub)"/>
<circle cx="75.4" cy="136.3" r="4.7" fill="url(#bub)"/>
<circle cx="40.0" cy="64.5" r="4.8" fill="url(#bub)"/>
<circle cx="123.8" cy="68.0" r="5.5" fill="url(#bub)"/>
<circle cx="41.3" cy="79.9" r="3.5" fill="url(#bub)"/>
<circle cx="123.8" cy="141.0" r="4.2" fill="url(#bub)"/>
<circle cx="47.2" cy="101.2" r="5.6" fill="url(#bub)"/>
<circle cx="47.7" cy="96.0" r="4.1" fill="url(#bub)"/>
<circle cx="103.1" cy="67.9" r="3.6" fill="url(#bub)"/>
<circle cx="122.7" cy="93.1" r="3.9" fill="url(#bub)"/>
<circle cx="23.8" cy="82.7" r="4.2" fill="url(#bub)"/>
<circle cx="112.0" cy="87.6" r="3.5" fill="url(#bub)"/>
<circle cx="64.1" cy="112.1" r="4.2" fill="url(#bub)"/>
<circle cx="72.7" cy="46.4" r="3.3" fill="url(#bub)"/>
<circle cx="79.2" cy="123.1" r="3.3" fill="url(#bub)"/>
<circle cx="131.6" cy="69.2" r="3.8" fill="url(#bub)"/>
<circle cx="21.6" cy="89.9" r="3.5" fill="url(#bub)"/>
<circle cx="67.3" cy="70.4" r="4.2" fill="url(#bub)"/>
<circle cx="51.2" cy="141.1" r="3.5" fill="url(#bub)"/>
<circle cx="37.4" cy="56.7" r="3.8" fill="url(#bub)"/>
<circle cx="69.2" cy="41.0" r="5.1" fill="url(#bub)"/>
<circle cx="32.6" cy="129.4" r="5.2" fill="url(#bub)"/>
<circle cx="69.0" cy="141.1" r="4.3" fill="url(#bub)"/>
<circle cx="80.6" cy="92.7" r="4.3" fill="url(#bub)"/>
<circle cx="56.7" cy="140.0" r="3.3" fill="url(#bub)"/>
<circle cx="123.4" cy="147.5" r="3.8" fill="url(#bub)"/>
<circle cx="63.6" cy="91.4" r="4.1" fill="url(#bub)"/>
<circle cx="48.3" cy="141.5" r="4.2" fill="url(#bub)"/>
<circle cx="106.7" cy="141.1" r="3.4" fill="url(#bub)"/>
<circle cx="97.9" cy="176.6" r="4.5" fill="url(#bub)"/>
<circle cx="86.8" cy="50.7" r="4.8" fill="url(#bub)"/>
<circle cx="45.9" cy="57.6" r="3.5" fill="url(#bub)"/>
<circle cx="33.6" cy="69.2" r="5.2" fill="url(#bub)"/>
<circle cx="50.5" cy="163.9" r="3.5" fill="url(#bub)"/>
<circle cx="83.2" cy="43.1" r="4.9" fill="url(#bub)"/>
<circle cx="65.3" cy="58.0" r="4.5" fill="url(#bub)"/>
<circle cx="85.8" cy="141.6" r="4.2" fill="url(#bub)"/>
<circle cx="118.5" cy="112.5" r="5.5" fill="url(#bub)"/>
<circle cx="96.9" cy="169.4" r="5.3" fill="url(#bub)"/>
<path d="M65.5,42.0 C66.8,41.8 70.4,40.8 73.1,40.9 C75.8,41.0 79.6,41.6 81.8,42.5 C84.0,43.4 84.9,44.9 86.2,46.4 C87.5,47.9 88.4,50.0 89.5,51.8 C90.6,53.6 91.4,55.5 92.7,57.3 C94.0,59.1 95.8,61.3 97.1,62.7 C98.4,64.1 99.1,65.4 100.4,65.5 C101.7,65.6 103.2,64.2 105.0,63.5 C106.8,62.8 109.0,61.8 111.3,61.0 C113.5,60.2 116.0,58.9 118.5,59.0 C121.0,59.1 123.2,60.0 126.0,61.5 C128.8,63.0 132.9,66.1 135.6,68.3 C138.3,70.5 140.4,72.9 142.3,74.9 C144.2,77.0 145.9,79.0 147.0,80.6 C148.1,82.2 149.2,83.1 148.9,84.4 C148.6,85.7 146.4,86.9 145.1,88.2 C143.8,89.5 142.1,90.4 141.3,92.0 C140.5,93.6 140.2,95.2 140.4,97.7 C140.6,100.2 141.2,104.7 142.3,107.2 C143.4,109.7 146.5,111.1 147.0,112.6 C147.5,114.1 146.4,114.8 145.1,116.4 C143.8,118.0 141.0,119.9 139.4,122.1 C137.8,124.3 137.0,127.5 135.6,129.7 C134.2,131.9 132.2,133.2 130.9,135.4 C129.6,137.6 129.1,140.5 128.0,143.0 C126.9,145.5 125.5,148.1 124.2,150.6 C122.9,153.1 121.4,156.0 120.4,158.2 C119.5,160.4 119.1,162.0 118.5,163.9 C117.9,165.8 118.2,168.0 116.6,169.6 C115.0,171.2 111.5,172.2 109.0,173.4 C106.5,174.6 106.2,175.7 101.4,176.5 C96.6,177.3 86.9,177.8 80.0,178.0 C73.1,178.2 64.2,178.0 60.0,178.0 C55.8,178.0 55.5,179.0 54.7,178.2 C53.9,177.4 55.4,175.2 55.0,173.4 C54.6,171.7 53.5,169.6 52.3,167.7 C51.1,165.8 49.1,163.9 47.6,162.0 C46.1,160.1 44.7,158.2 43.5,156.3 C42.3,154.4 42.1,152.8 40.3,150.6 C38.5,148.4 34.4,145.8 32.8,143.0 C31.2,140.2 31.0,136.7 30.9,133.5 C30.8,130.3 32.0,127.1 31.9,124.0 C31.8,120.9 31.4,117.6 30.5,114.8 C29.6,112.0 27.9,109.7 26.2,107.2 C24.5,104.7 21.8,102.1 20.5,99.6 C19.2,97.1 18.5,94.2 18.6,92.0 C18.8,89.8 20.0,88.2 21.4,86.3 C22.8,84.4 25.5,82.8 27.1,80.6 C28.7,78.4 29.8,75.8 30.9,73.0 C32.0,70.2 33.2,66.0 33.8,63.5 C34.4,61.0 33.6,59.8 34.7,57.8 C35.8,55.8 38.2,52.9 40.4,51.2 C42.6,49.5 45.1,48.4 48.0,47.4 C50.9,46.4 54.6,46.4 57.5,45.5 C60.4,44.6 64.2,42.6 65.5,42.0" fill="url(#shade)"/>
</g>
</g>
<defs><radialGradient id="shade" cx="0.55" cy="0.3" r="0.75"><stop offset="0" stop-color="#000" stop-opacity="0"/><stop offset="0.6" stop-color="#000" stop-opacity="0.015"/><stop offset="1" stop-color="#000" stop-opacity="0.07"/></radialGradient></defs>
<defs><linearGradient id="elec" x1="0" y1="0" x2="0" y2="1"><stop offset="0" stop-color="#2a2a2a"/><stop offset="0.35" stop-color="#555"/><stop offset="1" stop-color="#e6e6e6"/></linearGradient></defs>
<rect x="16" y="178.6" width="136" height="5.5" fill="url(#elec)"/>
<text x="27.7" y="193.5" font-family='"Liberation Serif", serif' font-size="10.3" fill="#111" stroke="#111" stroke-width="0.2">electrode</text>
<defs><radialGradient id="fes" cx="0.42" cy="0.38" r="0.62"><stop offset="0" stop-color="#9a9a9a"/><stop offset="0.6" stop-color="#747474"/><stop offset="0.9" stop-color="#555"/><stop offset="1" stop-color="#444"/></radialGradient></defs>
<circle cx="72.4" cy="123.3" r="3.0" fill="url(#fes)"/>
<circle cx="76.6" cy="122.3" r="3.0" fill="url(#fes)"/>
<circle cx="73.5" cy="127.2" r="3.0" fill="url(#fes)"/>
<circle cx="77.3" cy="126.1" r="3.0" fill="url(#fes)"/>
<circle cx="81.6" cy="141.8" r="3.0" fill="url(#fes)"/>
<circle cx="85.8" cy="140.8" r="3.0" fill="url(#fes)"/>
<circle cx="82.7" cy="145.7" r="3.0" fill="url(#fes)"/>
<circle cx="86.5" cy="144.6" r="3.0" fill="url(#fes)"/>
<circle cx="71.2" cy="149.5" r="3.0" fill="url(#fes)"/>
<circle cx="75.4" cy="148.5" r="3.0" fill="url(#fes)"/>
<circle cx="72.3" cy="153.4" r="3.0" fill="url(#fes)"/>
<circle cx="76.1" cy="152.3" r="3.0" fill="url(#fes)"/>
<circle cx="80.1" cy="164.9" r="3.0" fill="url(#fes)"/>
<circle cx="84.3" cy="163.9" r="3.0" fill="url(#fes)"/>
<circle cx="81.2" cy="168.8" r="3.0" fill="url(#fes)"/>
<circle cx="85.0" cy="167.7" r="3.0" fill="url(#fes)"/>
<path d="M81.5,107.8 C81.0,108.2 79.5,109.2 78.5,110.5 C77.5,111.8 76.4,113.8 75.8,115.5 C75.2,117.2 74.8,118.6 74.7,121.0 C74.6,123.4 74.8,127.5 75.4,130.0 C76.0,132.5 77.5,134.4 78.3,136.0 C79.1,137.6 79.8,138.3 80.0,139.5 C80.2,140.7 79.9,142.1 79.3,143.2 C78.7,144.3 77.5,145.2 76.5,146.2 C75.5,147.2 74.0,148.1 73.2,149.0 C72.4,149.9 71.8,150.5 71.7,151.5 C71.6,152.5 71.7,153.6 72.6,155.2 C73.5,156.8 75.5,159.1 77.0,161.0 C78.5,162.9 80.5,165.0 81.4,166.8 C82.4,168.6 82.5,169.8 82.7,172.0 C82.9,174.2 82.7,177.0 82.7,180.0 C82.7,183.0 82.7,188.3 82.7,190.0" fill="none" stroke="#111" stroke-width="1.25"/>
<path d="M80.7,188.5 L82.7,193.5 L84.7,188.5 Z" fill="#111"/>
<path d="M83.5,105.5 L79.5,108 L83,110.5 Z" fill="#111"/>
<g stroke="#6a6a6a" stroke-width="0.75" fill="none" stroke-linejoin="round"><path d="M67.9,103.0 L65.8,104.2 L63.7,103.0 L63.7,100.6 L65.8,99.4 L67.9,100.6 Z"/><path d="M83.2,100.8 L81.5,101.8 L79.8,100.8 L79.8,98.8 L81.5,97.8 L83.2,98.8 Z"/><path d="M93.3,101.8 L91.5,102.9 L89.7,101.8 L89.7,99.8 L91.5,98.7 L93.3,99.8 Z"/><path d="M98.1,103.3 L96.2,104.4 L94.3,103.3 L94.3,101.1 L96.2,100.0 L98.1,101.1 Z"/><path d="M63.5,98 L65.8,99.4 M68,102.9 L70.5,101.4 L73,103 L75.5,101.5 L78,102.4 L79.7,100.8 M83.3,99 L85.5,100.2 L87.6,99.2 L89.6,100.4 M98.4,101.3 L100,100.2"/><path d="M85.5,102 L85.2,106 L86.4,109.5 L85.6,113 L86.6,118.5 M86.2,112 L89,113.5 L91.5,112.3 L94,114.5 L96.5,113.5 L99,115.8 L101.5,114.8 L104,116.2 L106.5,114.5 L108.2,112 L110,110.5"/></g>
<path d="M89,95.5 C95,85 100,72 102,60 C103,50 101,44 100,39" fill="none" stroke="#111" stroke-width="1.3"/>
<path d="M100,35.5 L97.8,40.5 L102.2,40 Z" fill="#111"/>
<path d="M97,76 C101,67 108,58 121,52" fill="none" stroke="#111" stroke-width="1.3"/>
<path d="M124,50.5 L118.5,50.2 L120.8,54.2 Z" fill="#111"/>
<path d="M88.5,96.5 L88.6,91 L92.2,93 Z" fill="#111"/>
<g font-family='"Liberation Serif", serif' font-size="8.5" fill="#1a1a1a" stroke="#1a1a1a" stroke-width="0.15" text-anchor="middle">
<text x="98.7" y="11.2">O</text>
<text x="98.2" y="29.4">C</text>
<text x="81.3" y="39.4">H</text>
<text x="115" y="39.4">O</text><text x="119" y="35" font-size="6">−</text>
<text x="126.4" y="45.2">O</text><text x="143.6" y="45.2">C</text><text x="161.8" y="45.2">O</text>
<text x="137.3" y="57">H<tspan font-size="7.5" dy="-3">+</tspan></text>
</g>
<g stroke="#222" stroke-width="0.7"><line x1="97.8" y1="12.5" x2="97.8" y2="22"/><line x1="99.6" y1="12.5" x2="99.6" y2="22"/><line x1="95.5" y1="28.7" x2="86.4" y2="32.7"/><line x1="101.8" y1="28.7" x2="111.5" y2="33.6"/><line x1="130" y1="41.3" x2="140" y2="41.3"/><line x1="130" y1="43.1" x2="140" y2="43.1"/><line x1="147.3" y1="41.3" x2="158.2" y2="41.3"/><line x1="147.3" y1="43.1" x2="158.2" y2="43.1"/></g>
<g font-family='"Liberation Serif", serif' font-size="9" fill="#1a1a1a" stroke="#1a1a1a" stroke-width="0.2" text-anchor="middle">
<text x="138" y="20.3">substrate</text><text x="138.2" y="27.5">conversion</text>
<text x="119" y="99.5">tungsten</text><text x="118.6" y="107.3">active site</text>
<text x="106" y="137.6">electron</text><text x="106" y="145.8">transfer</text>
<text x="68.3" y="140.2">2 e<tspan font-size="7" dy="-3.2">−</tspan></text>
</g>
<rect x="177" y="8" width="21.3" height="26.6" fill="#000"/>
<text transform="translate(0,0)" x="188.1" y="27.2" font-family='"Liberation Serif", serif' font-size="17" fill="#fff" text-anchor="middle">B</text>
<g stroke="#333" stroke-width="0.9" fill="none">
<path d="M235.3,8.3 V180.5 H510.5 V8.3"/>
<line x1="229.3" y1="180.5" x2="235.3" y2="180.5"/>
<line x1="232.3" y1="155.9" x2="235.3" y2="155.9"/>
<line x1="229.3" y1="131.4" x2="235.3" y2="131.4"/>
<line x1="232.3" y1="106.8" x2="235.3" y2="106.8"/>
<line x1="229.3" y1="82.3" x2="235.3" y2="82.3"/>
<line x1="232.3" y1="57.8" x2="235.3" y2="57.8"/>
<line x1="229.3" y1="33.2" x2="235.3" y2="33.2"/>
<line x1="232.3" y1="8.7" x2="235.3" y2="8.7"/>
<line x1="510.5" y1="180.5" x2="516.5" y2="180.5"/>
<line x1="510.5" y1="156.0" x2="513.5" y2="156.0"/>
<line x1="510.5" y1="131.5" x2="516.5" y2="131.5"/>
<line x1="510.5" y1="107.0" x2="513.5" y2="107.0"/>
<line x1="510.5" y1="82.5" x2="516.5" y2="82.5"/>
<line x1="510.5" y1="58.0" x2="513.5" y2="58.0"/>
<line x1="510.5" y1="33.5" x2="516.5" y2="33.5"/>
<line x1="510.5" y1="9.0" x2="513.5" y2="9.0"/>
<line x1="510.5" y1="8.3" x2="513.5" y2="8.3"/>
<line x1="232.3" y1="8.3" x2="235.3" y2="8.3"/>
<line x1="235.3" y1="180.5" x2="235.3" y2="185.5"/>
<line x1="255.0" y1="180.5" x2="255.0" y2="183.0"/>
<line x1="274.6" y1="180.5" x2="274.6" y2="185.5"/>
<line x1="294.2" y1="180.5" x2="294.2" y2="183.0"/>
<line x1="313.9" y1="180.5" x2="313.9" y2="185.5"/>
<line x1="333.6" y1="180.5" x2="333.6" y2="183.0"/>
<line x1="353.2" y1="180.5" x2="353.2" y2="185.5"/>
<line x1="372.9" y1="180.5" x2="372.9" y2="183.0"/>
<line x1="392.5" y1="180.5" x2="392.5" y2="185.5"/>
<line x1="412.1" y1="180.5" x2="412.1" y2="183.0"/>
<line x1="431.8" y1="180.5" x2="431.8" y2="185.5"/>
<line x1="451.4" y1="180.5" x2="451.4" y2="183.0"/>
<line x1="471.1" y1="180.5" x2="471.1" y2="185.5"/>
<line x1="490.8" y1="180.5" x2="490.8" y2="183.0"/>
<line x1="510.4" y1="180.5" x2="510.4" y2="185.5"/>
</g>
<g font-family='"Liberation Serif", serif' font-size="11" fill="#1a1a1a">
<text transform="translate(226.3,183.7) scale(1.00,1.05)" text-anchor="end">0</text>
<text transform="translate(226.3,134.6) scale(1.00,1.05)" text-anchor="end">60</text>
<text transform="translate(226.3,85.5) scale(0.92,1.05)" text-anchor="end">120</text>
<text transform="translate(226.3,36.4) scale(0.92,1.05)" text-anchor="end">180</text>
<text transform="translate(519.6,184.4) scale(1,1.050)"   font-size="11.5">0</text>
<text transform="translate(519.6,135.4) scale(1,1.050)"   font-size="11.5">1</text>
<text transform="translate(519.6,86.4) scale(1,1.050)"   font-size="11.5">2</text>
<text transform="translate(519.6,37.4) scale(1,1.050)"   font-size="11.5">3</text>
<text transform="translate(235.6,196.4) scale(1,1.050)"   text-anchor="middle">4</text>
<text transform="translate(274.9,196.4) scale(1,1.050)"   text-anchor="middle">5</text>
<text transform="translate(314.2,196.4) scale(1,1.050)"   text-anchor="middle">6</text>
<text transform="translate(353.5,196.4) scale(1,1.050)"   text-anchor="middle">7</text>
<text transform="translate(392.8,196.4) scale(1,1.050)"   text-anchor="middle">8</text>
<text transform="translate(432.1,196.4) scale(1,1.050)"   text-anchor="middle">9</text>
<text transform="translate(471.4,196.4) scale(1,1.050)"   text-anchor="middle">10</text>
<text transform="translate(510.7,196.4) scale(1,1.050)"   text-anchor="middle">11</text>
</g>
<text transform="translate(374.4,206.3) scale(1,1.050)"   font-family='"Liberation Serif", serif' font-size="14" fill="#1a1a1a" text-anchor="middle">pH</text>
<text transform="translate(252.9,116) rotate(-90)" font-family='"Liberation Serif", serif' font-size="14.5" fill="#1a1a1a">Current (μA cm<tspan font-size="9.4" dy="-4.8">−2</tspan><tspan dy="4.8">)</tspan></text>
<text transform="translate(543.3,148.4) rotate(-90)" font-family='"Liberation Serif", serif' font-size="13.3" fill="#1a1a1a">Rate (10<tspan font-size="8.8" dy="-5.3">3</tspan><tspan dy="5.3"> s</tspan><tspan font-size="8.8" dy="-5.3">−1</tspan><tspan dy="5.3"> FDH</tspan><tspan font-size="8.8" dy="-5.3">−1</tspan><tspan dy="5.3">)</tspan></text>
<g fill="none" stroke="#1a1a1a" stroke-width="0.9">
<path d="M244.7,173.7 C246.4,172.5 251.8,168.9 255.2,166.7 C258.6,164.5 261.9,162.4 265.3,160.6 C268.7,158.8 272.0,156.8 275.4,155.6 C278.8,154.3 282.1,153.5 285.5,153.1 C288.9,152.7 292.2,152.7 295.6,152.9 C299.0,153.1 302.3,153.5 305.7,154.1 C309.1,154.7 312.8,155.8 315.8,156.6 C318.8,157.3 321.2,157.7 323.9,158.6 C326.6,159.5 329.3,160.9 332.0,162.0 C334.7,163.1 335.5,163.8 340.2,165.2 C344.9,166.6 353.7,168.9 360.4,170.7 C367.1,172.5 373.9,174.8 380.6,176.2 C387.3,177.6 394.2,178.4 400.8,179.0 C407.4,179.6 411.8,179.6 420.0,179.8 C428.2,180.0 440.0,180.2 450.0,180.3 C460.0,180.4 470.0,180.5 480.0,180.5 C490.0,180.5 505.0,180.5 510.0,180.5"/>
<path d="M275.4,180.3 C278.8,180.0 290.6,179.3 295.6,178.4 C300.7,177.5 302.3,176.4 305.7,174.7 C309.1,173.0 312.8,170.9 315.8,168.2 C318.8,165.5 320.6,163.3 323.9,158.6 C327.1,153.9 331.1,147.3 335.3,139.9 C339.5,132.5 344.7,124.2 349.2,114.2 C353.7,104.2 358.1,89.9 362.4,80.0 C366.7,70.1 370.7,62.4 374.9,54.9 C379.1,47.4 383.7,40.0 387.4,35.0 C391.1,30.1 394.7,27.3 397.3,25.2 C399.9,23.1 400.8,23.0 403.0,22.3 C405.2,21.6 407.9,21.1 410.4,21.2 C412.9,21.3 415.6,21.6 418.2,22.8 C420.8,24.0 423.3,25.8 425.9,28.2 C428.5,30.6 431.0,33.8 433.6,37.4 C436.2,41.0 438.7,45.8 441.3,49.8 C443.9,53.8 446.5,57.1 449.0,61.5 C451.5,65.9 453.3,71.2 456.4,76.4 C459.4,81.6 463.7,87.2 467.3,92.7 C470.9,98.2 474.1,103.4 478.2,109.1 C482.3,114.8 487.1,120.9 491.8,126.8 C496.5,132.7 503.9,141.6 506.3,144.5"/>
<path d="M346.2,160.4 C347.6,158.1 351.6,151.1 354.3,146.4 C357.0,141.7 359.2,139.3 362.3,132.4 C365.4,125.5 369.9,111.9 372.9,104.7 C375.8,97.5 377.6,94.8 380.0,89.0 C382.4,83.2 384.4,77.9 387.4,69.8 C390.4,61.7 395.3,47.2 398.1,40.5 C400.9,33.8 402.2,32.5 404.3,29.7 C406.4,26.9 408.1,24.9 410.4,23.8 C412.7,22.7 415.4,22.1 418.0,23.0 C420.6,23.9 423.3,27.0 425.9,29.5 C428.5,32.0 430.8,34.3 433.6,38.2 C436.4,42.1 440.2,48.3 442.9,52.9 C445.5,57.5 446.8,59.4 449.5,66.0 C452.2,72.6 455.7,85.5 459.1,92.7 C462.5,99.9 466.4,103.2 470.0,109.1 C473.6,115.0 476.8,121.8 480.9,128.2 C485.0,134.6 489.9,141.4 494.5,147.3 C499.1,153.2 505.9,160.9 508.2,163.6" stroke-dasharray="3,2"/>
<path d="M331.0,155.5 C332.5,155.3 336.8,154.4 340.0,154.2 C343.2,154.0 346.7,154.3 350.0,154.2 C353.3,154.1 356.7,153.8 360.0,153.8 C363.3,153.8 367.0,153.6 370.0,154.0 C373.0,154.4 375.0,155.2 378.0,156.5 C381.0,157.8 384.7,159.8 388.0,161.5 C391.3,163.2 394.3,165.5 398.0,167.0 C401.7,168.5 406.3,169.6 410.0,170.5 C413.7,171.4 416.7,171.7 420.0,172.5 C423.3,173.3 425.8,174.6 430.0,175.6 C434.2,176.6 440.0,177.6 445.0,178.3 C450.0,179.0 454.2,179.3 460.0,179.6 C465.8,179.9 471.7,180.2 480.0,180.3 C488.3,180.5 505.0,180.5 510.0,180.5" stroke-dasharray="3,2"/>
</g>
<g>
<rect x="328.8" y="153.5" width="4.4" height="4.4" fill="#fff" stroke="#111" stroke-width="0.85"/>
<rect x="335.8" y="151.8" width="4.4" height="4.4" fill="#fff" stroke="#111" stroke-width="0.85"/>
<rect x="347.9" y="152.5" width="4.4" height="4.4" fill="#fff" stroke="#111" stroke-width="0.85"/>
<rect x="364.0" y="151.8" width="4.4" height="4.4" fill="#fff" stroke="#111" stroke-width="0.85"/>
<rect x="367.3" y="150.6" width="4.4" height="4.4" fill="#fff" stroke="#111" stroke-width="0.85"/>
<rect x="373.8" y="151.2" width="4.4" height="4.4" fill="#fff" stroke="#111" stroke-width="0.85"/>
<rect x="379.1" y="154.3" width="4.4" height="4.4" fill="#fff" stroke="#111" stroke-width="0.85"/>
<rect x="376.7" y="160.2" width="4.4" height="4.4" fill="#fff" stroke="#111" stroke-width="0.85"/>
<rect x="384.7" y="161.2" width="4.4" height="4.4" fill="#fff" stroke="#111" stroke-width="0.85"/>
<rect x="391.4" y="162.4" width="4.4" height="4.4" fill="#fff" stroke="#111" stroke-width="0.85"/>
<rect x="392.7" y="164.0" width="4.4" height="4.4" fill="#fff" stroke="#111" stroke-width="0.85"/>
<rect x="401.3" y="164.3" width="4.4" height="4.4" fill="#fff" stroke="#111" stroke-width="0.85"/>
<rect x="408.0" y="166.3" width="4.4" height="4.4" fill="#fff" stroke="#111" stroke-width="0.85"/>
<rect x="412.8" y="169.0" width="4.4" height="4.4" fill="#fff" stroke="#111" stroke-width="0.85"/>
<rect x="418.1" y="168.6" width="4.4" height="4.4" fill="#fff" stroke="#111" stroke-width="0.85"/>
<rect x="425.5" y="172.4" width="4.4" height="4.4" fill="#fff" stroke="#111" stroke-width="0.85"/>
<rect x="434.4" y="174.9" width="4.4" height="4.4" fill="#fff" stroke="#111" stroke-width="0.85"/>
<rect x="458.3" y="177.1" width="4.4" height="4.4" fill="#fff" stroke="#111" stroke-width="0.85"/>
<circle cx="346.1" cy="148.6" r="2.6" fill="#fff" stroke="#111" stroke-width="0.85"/>
<circle cx="359.4" cy="164.0" r="2.6" fill="#fff" stroke="#111" stroke-width="0.85"/>
<circle cx="367.5" cy="139.9" r="2.6" fill="#fff" stroke="#111" stroke-width="0.85"/>
<circle cx="377.2" cy="92.8" r="2.6" fill="#fff" stroke="#111" stroke-width="0.85"/>
<circle cx="387.4" cy="51.1" r="2.6" fill="#fff" stroke="#111" stroke-width="0.85"/>
<circle cx="400.9" cy="14.0" r="2.6" fill="#fff" stroke="#111" stroke-width="0.85"/>
<circle cx="404.5" cy="14.0" r="2.6" fill="#fff" stroke="#111" stroke-width="0.85"/>
<circle cx="410.8" cy="20.0" r="2.6" fill="#fff" stroke="#111" stroke-width="0.85"/>
<circle cx="411.1" cy="33.4" r="2.6" fill="#fff" stroke="#111" stroke-width="0.85"/>
<circle cx="425.0" cy="47.0" r="2.6" fill="#fff" stroke="#111" stroke-width="0.85"/>
<circle cx="458.1" cy="86.3" r="2.6" fill="#fff" stroke="#111" stroke-width="0.85"/>
<circle cx="495.4" cy="115.5" r="2.6" fill="#fff" stroke="#111" stroke-width="0.85"/>
<circle cx="495.0" cy="145.9" r="2.6" fill="#fff" stroke="#111" stroke-width="0.85"/>
<rect x="242.2" y="177.1" width="4.9" height="4.9" fill="#000"/>
<rect x="253.8" y="164.2" width="4.9" height="4.9" fill="#000"/>
<rect x="262.9" y="158.6" width="4.9" height="4.9" fill="#000"/>
<rect x="281.7" y="140.6" width="4.9" height="4.9" fill="#000"/>
<rect x="302.1" y="153.2" width="4.9" height="4.9" fill="#000"/>
<rect x="305.4" y="157.5" width="4.9" height="4.9" fill="#000"/>
<rect x="325.6" y="157.8" width="4.9" height="4.9" fill="#000"/>
<rect x="332.1" y="159.8" width="4.9" height="4.9" fill="#000"/>
<rect x="345.6" y="165.1" width="4.9" height="4.9" fill="#000"/>
<rect x="357.1" y="165.6" width="4.9" height="4.9" fill="#000"/>
<rect x="361.1" y="169.4" width="4.9" height="4.9" fill="#000"/>
<rect x="373.8" y="173.2" width="4.9" height="4.9" fill="#000"/>
<rect x="383.9" y="174.6" width="4.9" height="4.9" fill="#000"/>
<rect x="393.9" y="176.8" width="4.9" height="4.9" fill="#000"/>
<rect x="420.1" y="175.5" width="4.9" height="4.9" fill="#000"/>
<rect x="433.2" y="177.4" width="4.9" height="4.9" fill="#000"/>
<rect x="441.4" y="176.9" width="4.9" height="4.9" fill="#000"/>
<rect x="446.9" y="175.9" width="4.9" height="4.9" fill="#000"/>
<rect x="461.1" y="177.2" width="4.9" height="4.9" fill="#000"/>
<rect x="469.2" y="174.9" width="4.9" height="4.9" fill="#000"/>
<rect x="473.2" y="175.7" width="4.9" height="4.9" fill="#000"/>
<rect x="477.2" y="175.2" width="4.9" height="4.9" fill="#000"/>
<circle cx="244.7" cy="177.8" r="2.75" fill="#000"/>
<circle cx="256.2" cy="176.4" r="2.75" fill="#000"/>
<circle cx="265.3" cy="176.8" r="2.75" fill="#000"/>
<circle cx="284.1" cy="170.3" r="2.75" fill="#000"/>
<circle cx="304.5" cy="167.3" r="2.75" fill="#000"/>
<circle cx="308.1" cy="167.8" r="2.75" fill="#000"/>
<circle cx="328.1" cy="152.3" r="2.75" fill="#000"/>
<circle cx="334.7" cy="143.6" r="2.75" fill="#000"/>
<circle cx="348.0" cy="130.3" r="2.75" fill="#000"/>
<circle cx="358.9" cy="95.6" r="2.75" fill="#000"/>
<circle cx="359.4" cy="67.8" r="2.75" fill="#000"/>
<circle cx="363.9" cy="74.8" r="2.75" fill="#000"/>
<circle cx="376.1" cy="66.8" r="2.75" fill="#000"/>
<circle cx="386.6" cy="11.2" r="2.75" fill="#000"/>
<circle cx="396.3" cy="43.5" r="2.75" fill="#000"/>
<circle cx="422.4" cy="24.4" r="2.75" fill="#000"/>
<circle cx="435.7" cy="44.0" r="2.75" fill="#000"/>
<circle cx="442.2" cy="65.4" r="2.75" fill="#000"/>
<circle cx="443.7" cy="65.6" r="2.75" fill="#000"/>
<circle cx="449.6" cy="63.9" r="2.75" fill="#000"/>
<circle cx="464.1" cy="82.3" r="2.75" fill="#000"/>
<circle cx="471.9" cy="75.2" r="2.75" fill="#000"/>
<circle cx="474.9" cy="94.2" r="2.75" fill="#000"/>
<circle cx="476.2" cy="97.4" r="2.75" fill="#000"/>
<circle cx="479.4" cy="112.6" r="2.75" fill="#000"/>
<circle cx="506.9" cy="177.3" r="2.75" fill="#000"/>
</g>
<rect x="4.9" y="222" width="21" height="26.6" fill="#000"/>
<text x="15.75" y="241.6" font-family='"Liberation Serif", serif' font-size="18" fill="#fff" text-anchor="middle">C</text>
<defs>
<radialGradient id="gC" cx="0.4" cy="0.35" r="0.68" fx="0.36" fy="0.3"><stop offset="0" stop-color="#a8a8a8"/><stop offset="0.5" stop-color="#606060"/><stop offset="1" stop-color="#3a3a3a"/></radialGradient>
<radialGradient id="gO" cx="0.4" cy="0.35" r="0.68" fx="0.36" fy="0.3"><stop offset="0" stop-color="#ffa0a0"/><stop offset="0.5" stop-color="#e43434"/><stop offset="1" stop-color="#a81818"/></radialGradient>
<radialGradient id="gN" cx="0.4" cy="0.35" r="0.68" fx="0.36" fy="0.3"><stop offset="0" stop-color="#9aa4ff"/><stop offset="0.5" stop-color="#3040ea"/><stop offset="1" stop-color="#141e98"/></radialGradient>
<radialGradient id="gS" cx="0.4" cy="0.35" r="0.68" fx="0.36" fy="0.3"><stop offset="0" stop-color="#fff098"/><stop offset="0.5" stop-color="#dcb62e"/><stop offset="1" stop-color="#a08010"/></radialGradient>
<radialGradient id="gF" cx="0.4" cy="0.35" r="0.68" fx="0.36" fy="0.3"><stop offset="0" stop-color="#ffb080"/><stop offset="0.5" stop-color="#dc6228"/><stop offset="1" stop-color="#983c10"/></radialGradient>
<radialGradient id="gM" cx="0.4" cy="0.35" r="0.68" fx="0.36" fy="0.3"><stop offset="0" stop-color="#ff90f4"/><stop offset="0.5" stop-color="#ec1cdc"/><stop offset="1" stop-color="#a4009a"/></radialGradient>
<radialGradient id="gK" cx="0.4" cy="0.35" r="0.68" fx="0.36" fy="0.3"><stop offset="0" stop-color="#8a929a"/><stop offset="0.5" stop-color="#48505a"/><stop offset="1" stop-color="#262c32"/></radialGradient>
<radialGradient id="gT" cx="0.4" cy="0.35" r="0.68" fx="0.36" fy="0.3"><stop offset="0" stop-color="#d8c060"/><stop offset="0.5" stop-color="#a89020"/><stop offset="1" stop-color="#6a5808"/></radialGradient>
</defs>
<circle cx="129.4" cy="361.0" r="5.6" fill="url(#gT)"/>
<circle cx="209.7" cy="361.2" r="5.6" fill="url(#gT)"/>
<circle cx="64.0" cy="320.5" r="4.7" fill="url(#gO)"/>
<circle cx="21.5" cy="354.5" r="4.7" fill="url(#gO)"/>
<circle cx="124.8" cy="303.3" r="4.5" fill="url(#gO)"/>
<g stroke-linecap="butt"><line x1="79.0" y1="273.3" x2="81.8" y2="281.9" stroke="#c01c1c" stroke-width="4.3"/><line x1="81.8" y1="281.9" x2="84.7" y2="290.4" stroke="#484848" stroke-width="4.3"/><line x1="79.0" y1="273.3" x2="81.8" y2="281.9" stroke="#f25252" stroke-width="2.1"/><line x1="81.8" y1="281.9" x2="84.7" y2="290.4" stroke="#7c7c7c" stroke-width="2.1"/><line x1="84.7" y1="290.4" x2="88.8" y2="298.2" stroke="#484848" stroke-width="4.3"/><line x1="88.8" y1="298.2" x2="92.8" y2="306.0" stroke="#c01c1c" stroke-width="4.3"/><line x1="84.7" y1="290.4" x2="88.8" y2="298.2" stroke="#7c7c7c" stroke-width="2.1"/><line x1="88.8" y1="298.2" x2="92.8" y2="306.0" stroke="#f25252" stroke-width="2.1"/><line x1="84.7" y1="290.4" x2="81.8" y2="294.2" stroke="#484848" stroke-width="4.3"/><line x1="81.8" y1="294.2" x2="79.0" y2="298.0" stroke="#484848" stroke-width="4.3"/><line x1="84.7" y1="290.4" x2="81.8" y2="294.2" stroke="#7c7c7c" stroke-width="2.1"/><line x1="81.8" y1="294.2" x2="79.0" y2="298.0" stroke="#7c7c7c" stroke-width="2.1"/><line x1="79.0" y1="298.0" x2="75.7" y2="312.1" stroke="#484848" stroke-width="4.3"/><line x1="75.7" y1="312.1" x2="72.4" y2="326.2" stroke="#484848" stroke-width="4.3"/><line x1="79.0" y1="298.0" x2="75.7" y2="312.1" stroke="#7c7c7c" stroke-width="2.1"/><line x1="75.7" y1="312.1" x2="72.4" y2="326.2" stroke="#7c7c7c" stroke-width="2.1"/><line x1="72.4" y1="326.2" x2="65.2" y2="321.6" stroke="#484848" stroke-width="4.3"/><line x1="65.2" y1="321.6" x2="58.0" y2="317.0" stroke="#c01c1c" stroke-width="4.3"/><line x1="72.4" y1="326.2" x2="65.2" y2="321.6" stroke="#7c7c7c" stroke-width="2.1"/><line x1="65.2" y1="321.6" x2="58.0" y2="317.0" stroke="#f25252" stroke-width="2.1"/><line x1="72.4" y1="326.2" x2="60.5" y2="326.4" stroke="#484848" stroke-width="4.3"/><line x1="60.5" y1="326.4" x2="48.6" y2="326.5" stroke="#484848" stroke-width="4.3"/><line x1="72.4" y1="326.2" x2="60.5" y2="326.4" stroke="#7c7c7c" stroke-width="2.1"/><line x1="60.5" y1="326.4" x2="48.6" y2="326.5" stroke="#7c7c7c" stroke-width="2.1"/><line x1="48.6" y1="326.5" x2="45.3" y2="338.5" stroke="#484848" stroke-width="4.3"/><line x1="45.3" y1="338.5" x2="42.0" y2="350.5" stroke="#484848" stroke-width="4.3"/><line x1="48.6" y1="326.5" x2="45.3" y2="338.5" stroke="#7c7c7c" stroke-width="2.1"/><line x1="45.3" y1="338.5" x2="42.0" y2="350.5" stroke="#7c7c7c" stroke-width="2.1"/><line x1="42.0" y1="350.5" x2="33.9" y2="355.1" stroke="#484848" stroke-width="4.3"/><line x1="33.9" y1="355.1" x2="25.8" y2="359.8" stroke="#484848" stroke-width="4.3"/><line x1="42.0" y1="350.5" x2="33.9" y2="355.1" stroke="#7c7c7c" stroke-width="2.1"/><line x1="33.9" y1="355.1" x2="25.8" y2="359.8" stroke="#7c7c7c" stroke-width="2.1"/><line x1="25.8" y1="359.8" x2="23.6" y2="357.1" stroke="#484848" stroke-width="4.3"/><line x1="23.6" y1="357.1" x2="21.5" y2="354.5" stroke="#c01c1c" stroke-width="4.3"/><line x1="25.8" y1="359.8" x2="23.6" y2="357.1" stroke="#7c7c7c" stroke-width="2.1"/><line x1="23.6" y1="357.1" x2="21.5" y2="354.5" stroke="#f25252" stroke-width="2.1"/><line x1="25.8" y1="359.8" x2="18.4" y2="366.8" stroke="#484848" stroke-width="4.3"/><line x1="18.4" y1="366.8" x2="11.0" y2="373.8" stroke="#c01c1c" stroke-width="4.3"/><line x1="25.8" y1="359.8" x2="18.4" y2="366.8" stroke="#7c7c7c" stroke-width="2.1"/><line x1="18.4" y1="366.8" x2="11.0" y2="373.8" stroke="#f25252" stroke-width="2.1"/><line x1="72.4" y1="326.2" x2="80.5" y2="330.0" stroke="#484848" stroke-width="4.3"/><line x1="80.5" y1="330.0" x2="88.5" y2="333.8" stroke="#c01c1c" stroke-width="4.3"/><line x1="72.4" y1="326.2" x2="80.5" y2="330.0" stroke="#7c7c7c" stroke-width="2.1"/><line x1="80.5" y1="330.0" x2="88.5" y2="333.8" stroke="#f25252" stroke-width="2.1"/><line x1="72.4" y1="326.2" x2="78.6" y2="335.2" stroke="#484848" stroke-width="4.3"/><line x1="78.6" y1="335.2" x2="84.7" y2="344.2" stroke="#c01c1c" stroke-width="4.3"/><line x1="72.4" y1="326.2" x2="78.6" y2="335.2" stroke="#7c7c7c" stroke-width="2.1"/><line x1="78.6" y1="335.2" x2="84.7" y2="344.2" stroke="#f25252" stroke-width="2.1"/><line x1="88.5" y1="333.8" x2="100.0" y2="344.4" stroke="#c01c1c" stroke-width="5.6"/><line x1="100.0" y1="344.4" x2="111.4" y2="355.0" stroke="#c00cb0" stroke-width="5.6"/><line x1="88.5" y1="333.8" x2="100.0" y2="344.4" stroke="#f25252" stroke-width="2.8"/><line x1="100.0" y1="344.4" x2="111.4" y2="355.0" stroke="#f646e6" stroke-width="2.8"/><line x1="84.7" y1="344.2" x2="98.1" y2="349.6" stroke="#c01c1c" stroke-width="5.6"/><line x1="98.1" y1="349.6" x2="111.4" y2="355.0" stroke="#c00cb0" stroke-width="5.6"/><line x1="84.7" y1="344.2" x2="98.1" y2="349.6" stroke="#f25252" stroke-width="2.8"/><line x1="98.1" y1="349.6" x2="111.4" y2="355.0" stroke="#f646e6" stroke-width="2.8"/><line x1="64.0" y1="320.5" x2="76.2" y2="327.1" stroke="#c01c1c" stroke-width="4.3"/><line x1="76.2" y1="327.1" x2="88.5" y2="333.8" stroke="#c01c1c" stroke-width="4.3"/><line x1="64.0" y1="320.5" x2="76.2" y2="327.1" stroke="#f25252" stroke-width="2.1"/><line x1="76.2" y1="327.1" x2="88.5" y2="333.8" stroke="#f25252" stroke-width="2.1"/><line x1="107.9" y1="309.6" x2="114.7" y2="304.5" stroke="#1c2cc0" stroke-width="4.3"/><line x1="114.7" y1="304.5" x2="121.4" y2="299.4" stroke="#484848" stroke-width="4.3"/><line x1="107.9" y1="309.6" x2="114.7" y2="304.5" stroke="#5868ff" stroke-width="2.1"/><line x1="114.7" y1="304.5" x2="121.4" y2="299.4" stroke="#7c7c7c" stroke-width="2.1"/><line x1="121.4" y1="299.4" x2="123.1" y2="301.4" stroke="#484848" stroke-width="4.3"/><line x1="123.1" y1="301.4" x2="124.8" y2="303.3" stroke="#c01c1c" stroke-width="4.3"/><line x1="121.4" y1="299.4" x2="123.1" y2="301.4" stroke="#7c7c7c" stroke-width="2.1"/><line x1="123.1" y1="301.4" x2="124.8" y2="303.3" stroke="#f25252" stroke-width="2.1"/><line x1="121.4" y1="299.4" x2="126.5" y2="290.4" stroke="#484848" stroke-width="4.3"/><line x1="126.5" y1="290.4" x2="131.6" y2="281.4" stroke="#484848" stroke-width="4.3"/><line x1="121.4" y1="299.4" x2="126.5" y2="290.4" stroke="#7c7c7c" stroke-width="2.1"/><line x1="126.5" y1="290.4" x2="131.6" y2="281.4" stroke="#7c7c7c" stroke-width="2.1"/><line x1="131.6" y1="281.4" x2="142.8" y2="281.9" stroke="#484848" stroke-width="4.3"/><line x1="142.8" y1="281.9" x2="154.1" y2="282.5" stroke="#484848" stroke-width="4.3"/><line x1="131.6" y1="281.4" x2="142.8" y2="281.9" stroke="#7c7c7c" stroke-width="2.1"/><line x1="142.8" y1="281.9" x2="154.1" y2="282.5" stroke="#7c7c7c" stroke-width="2.1"/><line x1="154.1" y1="282.5" x2="158.6" y2="276.3" stroke="#484848" stroke-width="4.3"/><line x1="158.6" y1="276.3" x2="163.2" y2="270.1" stroke="#484848" stroke-width="4.3"/><line x1="154.1" y1="282.5" x2="158.6" y2="276.3" stroke="#7c7c7c" stroke-width="2.1"/><line x1="158.6" y1="276.3" x2="163.2" y2="270.1" stroke="#7c7c7c" stroke-width="2.1"/><line x1="163.2" y1="270.1" x2="168.2" y2="263.4" stroke="#484848" stroke-width="4.3"/><line x1="168.2" y1="263.4" x2="173.3" y2="256.6" stroke="#484848" stroke-width="4.3"/><line x1="163.2" y1="270.1" x2="168.2" y2="263.4" stroke="#7c7c7c" stroke-width="2.1"/><line x1="168.2" y1="263.4" x2="173.3" y2="256.6" stroke="#7c7c7c" stroke-width="2.1"/><line x1="157.5" y1="267.9" x2="165.4" y2="262.2" stroke="#484848" stroke-width="4.3"/><line x1="165.4" y1="262.2" x2="173.3" y2="256.6" stroke="#484848" stroke-width="4.3"/><line x1="157.5" y1="267.9" x2="165.4" y2="262.2" stroke="#7c7c7c" stroke-width="2.1"/><line x1="165.4" y1="262.2" x2="173.3" y2="256.6" stroke="#7c7c7c" stroke-width="2.1"/><line x1="157.5" y1="267.9" x2="155.8" y2="275.2" stroke="#484848" stroke-width="4.3"/><line x1="155.8" y1="275.2" x2="154.1" y2="282.5" stroke="#484848" stroke-width="4.3"/><line x1="157.5" y1="267.9" x2="155.8" y2="275.2" stroke="#7c7c7c" stroke-width="2.1"/><line x1="155.8" y1="275.2" x2="154.1" y2="282.5" stroke="#7c7c7c" stroke-width="2.1"/><line x1="168.1" y1="239.7" x2="170.7" y2="248.2" stroke="#484848" stroke-width="4.3"/><line x1="170.7" y1="248.2" x2="173.3" y2="256.6" stroke="#484848" stroke-width="4.3"/><line x1="168.1" y1="239.7" x2="170.7" y2="248.2" stroke="#7c7c7c" stroke-width="2.1"/><line x1="170.7" y1="248.2" x2="173.3" y2="256.6" stroke="#7c7c7c" stroke-width="2.1"/><line x1="173.3" y1="256.6" x2="184.0" y2="263.9" stroke="#484848" stroke-width="4.3"/><line x1="184.0" y1="263.9" x2="194.7" y2="271.2" stroke="#484848" stroke-width="4.3"/><line x1="173.3" y1="256.6" x2="184.0" y2="263.9" stroke="#7c7c7c" stroke-width="2.1"/><line x1="184.0" y1="263.9" x2="194.7" y2="271.2" stroke="#7c7c7c" stroke-width="2.1"/><line x1="249.1" y1="233.1" x2="251.7" y2="245.3" stroke="#484848" stroke-width="4.3"/><line x1="251.7" y1="245.3" x2="254.3" y2="257.5" stroke="#484848" stroke-width="4.3"/><line x1="249.1" y1="233.1" x2="251.7" y2="245.3" stroke="#7c7c7c" stroke-width="2.1"/><line x1="251.7" y1="245.3" x2="254.3" y2="257.5" stroke="#7c7c7c" stroke-width="2.1"/><line x1="254.3" y1="257.5" x2="245.8" y2="264.2" stroke="#484848" stroke-width="4.3"/><line x1="245.8" y1="264.2" x2="237.3" y2="271.0" stroke="#484848" stroke-width="4.3"/><line x1="254.3" y1="257.5" x2="245.8" y2="264.2" stroke="#7c7c7c" stroke-width="2.1"/><line x1="245.8" y1="264.2" x2="237.3" y2="271.0" stroke="#7c7c7c" stroke-width="2.1"/><line x1="237.3" y1="271.0" x2="227.8" y2="269.9" stroke="#484848" stroke-width="4.3"/><line x1="227.8" y1="269.9" x2="218.3" y2="268.7" stroke="#484848" stroke-width="4.3"/><line x1="237.3" y1="271.0" x2="227.8" y2="269.9" stroke="#7c7c7c" stroke-width="2.1"/><line x1="227.8" y1="269.9" x2="218.3" y2="268.7" stroke="#7c7c7c" stroke-width="2.1"/><line x1="218.3" y1="268.7" x2="213.6" y2="278.2" stroke="#484848" stroke-width="4.3"/><line x1="213.6" y1="278.2" x2="208.8" y2="287.7" stroke="#1c2cc0" stroke-width="4.3"/><line x1="218.3" y1="268.7" x2="213.6" y2="278.2" stroke="#7c7c7c" stroke-width="2.1"/><line x1="213.6" y1="278.2" x2="208.8" y2="287.7" stroke="#5868ff" stroke-width="2.1"/><line x1="208.8" y1="287.7" x2="214.4" y2="294.8" stroke="#1c2cc0" stroke-width="4.3"/><line x1="214.4" y1="294.8" x2="219.9" y2="301.9" stroke="#484848" stroke-width="4.3"/><line x1="208.8" y1="287.7" x2="214.4" y2="294.8" stroke="#5868ff" stroke-width="2.1"/><line x1="214.4" y1="294.8" x2="219.9" y2="301.9" stroke="#7c7c7c" stroke-width="2.1"/><line x1="219.9" y1="301.9" x2="228.2" y2="297.1" stroke="#484848" stroke-width="4.3"/><line x1="228.2" y1="297.1" x2="236.5" y2="292.4" stroke="#1c2cc0" stroke-width="4.3"/><line x1="219.9" y1="301.9" x2="228.2" y2="297.1" stroke="#7c7c7c" stroke-width="2.1"/><line x1="228.2" y1="297.1" x2="236.5" y2="292.4" stroke="#5868ff" stroke-width="2.1"/><line x1="236.5" y1="292.4" x2="236.9" y2="281.7" stroke="#1c2cc0" stroke-width="4.3"/><line x1="236.9" y1="281.7" x2="237.3" y2="271.0" stroke="#484848" stroke-width="4.3"/><line x1="236.5" y1="292.4" x2="236.9" y2="281.7" stroke="#5868ff" stroke-width="2.1"/><line x1="236.9" y1="281.7" x2="237.3" y2="271.0" stroke="#7c7c7c" stroke-width="2.1"/><line x1="111.4" y1="355.0" x2="120.7" y2="338.9" stroke="#c00cb0" stroke-width="5.6"/><line x1="120.7" y1="338.9" x2="130.0" y2="322.8" stroke="#b09018" stroke-width="5.6"/><line x1="111.4" y1="355.0" x2="120.7" y2="338.9" stroke="#f646e6" stroke-width="2.8"/><line x1="120.7" y1="338.9" x2="130.0" y2="322.8" stroke="#e8c840" stroke-width="2.8"/><line x1="111.4" y1="355.0" x2="120.4" y2="358.0" stroke="#c00cb0" stroke-width="5.6"/><line x1="120.4" y1="358.0" x2="129.4" y2="361.0" stroke="#9a7e14" stroke-width="5.6"/><line x1="111.4" y1="355.0" x2="120.4" y2="358.0" stroke="#f646e6" stroke-width="2.8"/><line x1="120.4" y1="358.0" x2="129.4" y2="361.0" stroke="#c8a830" stroke-width="2.8"/><line x1="111.4" y1="355.0" x2="118.2" y2="369.1" stroke="#c00cb0" stroke-width="5.6"/><line x1="118.2" y1="369.1" x2="125.0" y2="383.3" stroke="#b09018" stroke-width="5.6"/><line x1="111.4" y1="355.0" x2="118.2" y2="369.1" stroke="#f646e6" stroke-width="2.8"/><line x1="118.2" y1="369.1" x2="125.0" y2="383.3" stroke="#e8c840" stroke-width="2.8"/><line x1="148.5" y1="338.5" x2="139.2" y2="330.6" stroke="#b44416" stroke-width="4.8"/><line x1="139.2" y1="330.6" x2="130.0" y2="322.8" stroke="#b09018" stroke-width="4.8"/><line x1="148.5" y1="338.5" x2="139.2" y2="330.6" stroke="#ee7638" stroke-width="2.4"/><line x1="139.2" y1="330.6" x2="130.0" y2="322.8" stroke="#e8c840" stroke-width="2.4"/><line x1="148.5" y1="338.5" x2="138.9" y2="349.8" stroke="#b44416" stroke-width="4.8"/><line x1="138.9" y1="349.8" x2="129.4" y2="361.0" stroke="#9a7e14" stroke-width="4.8"/><line x1="148.5" y1="338.5" x2="138.9" y2="349.8" stroke="#ee7638" stroke-width="2.4"/><line x1="138.9" y1="349.8" x2="129.4" y2="361.0" stroke="#c8a830" stroke-width="2.4"/><line x1="145.5" y1="355.7" x2="137.8" y2="339.2" stroke="#b44416" stroke-width="4.8"/><line x1="137.8" y1="339.2" x2="130.0" y2="322.8" stroke="#b09018" stroke-width="4.8"/><line x1="145.5" y1="355.7" x2="137.8" y2="339.2" stroke="#ee7638" stroke-width="2.4"/><line x1="137.8" y1="339.2" x2="130.0" y2="322.8" stroke="#e8c840" stroke-width="2.4"/><line x1="145.5" y1="355.7" x2="135.2" y2="369.5" stroke="#b44416" stroke-width="4.8"/><line x1="135.2" y1="369.5" x2="125.0" y2="383.3" stroke="#b09018" stroke-width="4.8"/><line x1="145.5" y1="355.7" x2="135.2" y2="369.5" stroke="#ee7638" stroke-width="2.4"/><line x1="135.2" y1="369.5" x2="125.0" y2="383.3" stroke="#e8c840" stroke-width="2.4"/><line x1="148.1" y1="381.5" x2="138.8" y2="371.2" stroke="#b44416" stroke-width="4.8"/><line x1="138.8" y1="371.2" x2="129.4" y2="361.0" stroke="#9a7e14" stroke-width="4.8"/><line x1="148.1" y1="381.5" x2="138.8" y2="371.2" stroke="#ee7638" stroke-width="2.4"/><line x1="138.8" y1="371.2" x2="129.4" y2="361.0" stroke="#c8a830" stroke-width="2.4"/><line x1="148.1" y1="381.5" x2="136.6" y2="382.4" stroke="#b44416" stroke-width="4.8"/><line x1="136.6" y1="382.4" x2="125.0" y2="383.3" stroke="#b09018" stroke-width="4.8"/><line x1="148.1" y1="381.5" x2="136.6" y2="382.4" stroke="#ee7638" stroke-width="2.4"/><line x1="136.6" y1="382.4" x2="125.0" y2="383.3" stroke="#e8c840" stroke-width="2.4"/><line x1="190.8" y1="339.0" x2="202.2" y2="333.1" stroke="#b44416" stroke-width="4.8"/><line x1="202.2" y1="333.1" x2="213.6" y2="327.2" stroke="#b09018" stroke-width="4.8"/><line x1="190.8" y1="339.0" x2="202.2" y2="333.1" stroke="#ee7638" stroke-width="2.4"/><line x1="202.2" y1="333.1" x2="213.6" y2="327.2" stroke="#e8c840" stroke-width="2.4"/><line x1="190.8" y1="339.0" x2="200.2" y2="350.1" stroke="#b44416" stroke-width="4.8"/><line x1="200.2" y1="350.1" x2="209.7" y2="361.2" stroke="#9a7e14" stroke-width="4.8"/><line x1="190.8" y1="339.0" x2="200.2" y2="350.1" stroke="#ee7638" stroke-width="2.4"/><line x1="200.2" y1="350.1" x2="209.7" y2="361.2" stroke="#c8a830" stroke-width="2.4"/><line x1="191.4" y1="356.0" x2="202.5" y2="341.6" stroke="#b44416" stroke-width="4.8"/><line x1="202.5" y1="341.6" x2="213.6" y2="327.2" stroke="#b09018" stroke-width="4.8"/><line x1="191.4" y1="356.0" x2="202.5" y2="341.6" stroke="#ee7638" stroke-width="2.4"/><line x1="202.5" y1="341.6" x2="213.6" y2="327.2" stroke="#e8c840" stroke-width="2.4"/><line x1="191.4" y1="356.0" x2="201.9" y2="371.7" stroke="#b44416" stroke-width="4.8"/><line x1="201.9" y1="371.7" x2="212.3" y2="387.4" stroke="#b09018" stroke-width="4.8"/><line x1="191.4" y1="356.0" x2="201.9" y2="371.7" stroke="#ee7638" stroke-width="2.4"/><line x1="201.9" y1="371.7" x2="212.3" y2="387.4" stroke="#e8c840" stroke-width="2.4"/><line x1="188.8" y1="383.4" x2="199.2" y2="372.3" stroke="#b44416" stroke-width="4.8"/><line x1="199.2" y1="372.3" x2="209.7" y2="361.2" stroke="#9a7e14" stroke-width="4.8"/><line x1="188.8" y1="383.4" x2="199.2" y2="372.3" stroke="#ee7638" stroke-width="2.4"/><line x1="199.2" y1="372.3" x2="209.7" y2="361.2" stroke="#c8a830" stroke-width="2.4"/><line x1="188.8" y1="383.4" x2="200.6" y2="385.4" stroke="#b44416" stroke-width="4.8"/><line x1="200.6" y1="385.4" x2="212.3" y2="387.4" stroke="#b09018" stroke-width="4.8"/><line x1="188.8" y1="383.4" x2="200.6" y2="385.4" stroke="#ee7638" stroke-width="2.4"/><line x1="200.6" y1="385.4" x2="212.3" y2="387.4" stroke="#e8c840" stroke-width="2.4"/><line x1="225.4" y1="361.2" x2="219.5" y2="344.2" stroke="#b44416" stroke-width="4.8"/><line x1="219.5" y1="344.2" x2="213.6" y2="327.2" stroke="#b09018" stroke-width="4.8"/><line x1="225.4" y1="361.2" x2="219.5" y2="344.2" stroke="#ee7638" stroke-width="2.4"/><line x1="219.5" y1="344.2" x2="213.6" y2="327.2" stroke="#e8c840" stroke-width="2.4"/><line x1="225.4" y1="361.2" x2="217.6" y2="361.2" stroke="#b44416" stroke-width="4.8"/><line x1="217.6" y1="361.2" x2="209.7" y2="361.2" stroke="#9a7e14" stroke-width="4.8"/><line x1="225.4" y1="361.2" x2="217.6" y2="361.2" stroke="#ee7638" stroke-width="2.4"/><line x1="217.6" y1="361.2" x2="209.7" y2="361.2" stroke="#c8a830" stroke-width="2.4"/><line x1="225.4" y1="361.2" x2="218.9" y2="374.3" stroke="#b44416" stroke-width="4.8"/><line x1="218.9" y1="374.3" x2="212.3" y2="387.4" stroke="#b09018" stroke-width="4.8"/><line x1="225.4" y1="361.2" x2="218.9" y2="374.3" stroke="#ee7638" stroke-width="2.4"/><line x1="218.9" y1="374.3" x2="212.3" y2="387.4" stroke="#e8c840" stroke-width="2.4"/><line x1="170.2" y1="317.5" x2="159.3" y2="328.0" stroke="#b09018" stroke-width="4.8"/><line x1="159.3" y1="328.0" x2="148.5" y2="338.5" stroke="#b44416" stroke-width="4.8"/><line x1="170.2" y1="317.5" x2="159.3" y2="328.0" stroke="#e8c840" stroke-width="2.4"/><line x1="159.3" y1="328.0" x2="148.5" y2="338.5" stroke="#ee7638" stroke-width="2.4"/><line x1="170.2" y1="317.5" x2="180.5" y2="328.2" stroke="#b09018" stroke-width="4.8"/><line x1="180.5" y1="328.2" x2="190.8" y2="339.0" stroke="#b44416" stroke-width="4.8"/><line x1="170.2" y1="317.5" x2="180.5" y2="328.2" stroke="#e8c840" stroke-width="2.4"/><line x1="180.5" y1="328.2" x2="190.8" y2="339.0" stroke="#ee7638" stroke-width="2.4"/><line x1="167.8" y1="350.8" x2="156.7" y2="353.2" stroke="#b09018" stroke-width="4.8"/><line x1="156.7" y1="353.2" x2="145.5" y2="355.7" stroke="#b44416" stroke-width="4.8"/><line x1="167.8" y1="350.8" x2="156.7" y2="353.2" stroke="#e8c840" stroke-width="2.4"/><line x1="156.7" y1="353.2" x2="145.5" y2="355.7" stroke="#ee7638" stroke-width="2.4"/><line x1="167.8" y1="350.8" x2="179.6" y2="353.4" stroke="#b09018" stroke-width="4.8"/><line x1="179.6" y1="353.4" x2="191.4" y2="356.0" stroke="#b44416" stroke-width="4.8"/><line x1="167.8" y1="350.8" x2="179.6" y2="353.4" stroke="#e8c840" stroke-width="2.4"/><line x1="179.6" y1="353.4" x2="191.4" y2="356.0" stroke="#ee7638" stroke-width="2.4"/><line x1="167.8" y1="410.5" x2="157.9" y2="396.0" stroke="#b09018" stroke-width="4.8"/><line x1="157.9" y1="396.0" x2="148.1" y2="381.5" stroke="#b44416" stroke-width="4.8"/><line x1="167.8" y1="410.5" x2="157.9" y2="396.0" stroke="#e8c840" stroke-width="2.4"/><line x1="157.9" y1="396.0" x2="148.1" y2="381.5" stroke="#ee7638" stroke-width="2.4"/><line x1="167.8" y1="410.5" x2="178.3" y2="396.9" stroke="#b09018" stroke-width="4.8"/><line x1="178.3" y1="396.9" x2="188.8" y2="383.4" stroke="#b44416" stroke-width="4.8"/><line x1="167.8" y1="410.5" x2="178.3" y2="396.9" stroke="#e8c840" stroke-width="2.4"/><line x1="178.3" y1="396.9" x2="188.8" y2="383.4" stroke="#ee7638" stroke-width="2.4"/><line x1="168.5" y1="364.5" x2="157.0" y2="360.1" stroke="#30363e" stroke-width="3.2"/><line x1="157.0" y1="360.1" x2="145.5" y2="355.7" stroke="#b44416" stroke-width="3.2"/><line x1="168.5" y1="364.5" x2="157.0" y2="360.1" stroke="#5c646e" stroke-width="1.6"/><line x1="157.0" y1="360.1" x2="145.5" y2="355.7" stroke="#ee7638" stroke-width="1.6"/><line x1="168.5" y1="364.5" x2="179.9" y2="360.2" stroke="#30363e" stroke-width="3.2"/><line x1="179.9" y1="360.2" x2="191.4" y2="356.0" stroke="#b44416" stroke-width="3.2"/><line x1="168.5" y1="364.5" x2="179.9" y2="360.2" stroke="#5c646e" stroke-width="1.6"/><line x1="179.9" y1="360.2" x2="191.4" y2="356.0" stroke="#ee7638" stroke-width="1.6"/><line x1="168.5" y1="364.5" x2="158.3" y2="373.0" stroke="#30363e" stroke-width="3.2"/><line x1="158.3" y1="373.0" x2="148.1" y2="381.5" stroke="#b44416" stroke-width="3.2"/><line x1="168.5" y1="364.5" x2="158.3" y2="373.0" stroke="#5c646e" stroke-width="1.6"/><line x1="158.3" y1="373.0" x2="148.1" y2="381.5" stroke="#ee7638" stroke-width="1.6"/><line x1="168.5" y1="364.5" x2="178.7" y2="373.9" stroke="#30363e" stroke-width="3.2"/><line x1="178.7" y1="373.9" x2="188.8" y2="383.4" stroke="#b44416" stroke-width="3.2"/><line x1="168.5" y1="364.5" x2="178.7" y2="373.9" stroke="#5c646e" stroke-width="1.6"/><line x1="178.7" y1="373.9" x2="188.8" y2="383.4" stroke="#ee7638" stroke-width="1.6"/></g>
<circle cx="48.6" cy="326.5" r="5.8" fill="url(#gC)"/>
<circle cx="58.0" cy="317.0" r="5.6" fill="url(#gO)"/>
<circle cx="42.0" cy="350.5" r="6.2" fill="url(#gC)"/>
<circle cx="25.8" cy="359.8" r="5.8" fill="url(#gC)"/>
<circle cx="11.0" cy="373.8" r="5.6" fill="url(#gO)"/>
<circle cx="79.0" cy="298.0" r="5.8" fill="url(#gC)"/>
<circle cx="84.7" cy="290.4" r="5.6" fill="url(#gC)"/>
<circle cx="79.0" cy="273.3" r="4.8" fill="url(#gO)"/>
<circle cx="92.8" cy="306.0" r="5.2" fill="url(#gO)"/>
<circle cx="72.4" cy="326.2" r="6.7" fill="url(#gC)"/>
<circle cx="88.5" cy="333.8" r="5.3" fill="url(#gO)"/>
<circle cx="84.7" cy="344.2" r="5.3" fill="url(#gO)"/>
<circle cx="194.7" cy="271.2" r="5.6" fill="url(#gC)"/>
<circle cx="168.1" cy="239.7" r="5.6" fill="url(#gC)"/>
<circle cx="163.2" cy="270.1" r="5.2" fill="url(#gC)"/>
<circle cx="157.5" cy="267.9" r="5.6" fill="url(#gC)"/>
<circle cx="154.1" cy="282.5" r="5.6" fill="url(#gC)"/>
<circle cx="131.6" cy="281.4" r="5.6" fill="url(#gC)"/>
<circle cx="124.8" cy="303.3" r="4.5" fill="url(#gO)"/>
<circle cx="121.4" cy="299.4" r="5.6" fill="url(#gC)"/>
<circle cx="107.9" cy="309.6" r="5.2" fill="url(#gN)"/>
<circle cx="173.3" cy="256.6" r="6.5" fill="url(#gC)"/>
<circle cx="249.1" cy="233.1" r="5.5" fill="url(#gC)"/>
<circle cx="254.3" cy="257.5" r="5.6" fill="url(#gC)"/>
<circle cx="218.3" cy="268.7" r="5.6" fill="url(#gC)"/>
<circle cx="237.3" cy="271.0" r="5.6" fill="url(#gC)"/>
<circle cx="208.8" cy="287.7" r="5.4" fill="url(#gN)"/>
<circle cx="219.9" cy="301.9" r="5.6" fill="url(#gC)"/>
<circle cx="236.5" cy="292.4" r="5.4" fill="url(#gN)"/>
<circle cx="168.5" cy="364.5" r="4.3" fill="url(#gK)"/>
<circle cx="148.5" cy="338.5" r="5.2" fill="url(#gF)"/>
<circle cx="190.8" cy="339.0" r="5.2" fill="url(#gF)"/>
<circle cx="170.2" cy="317.5" r="6.0" fill="url(#gS)"/>
<circle cx="213.6" cy="327.2" r="6.0" fill="url(#gS)"/>
<circle cx="130.0" cy="322.8" r="5.9" fill="url(#gS)"/>
<circle cx="225.4" cy="361.2" r="5.5" fill="url(#gF)"/>
<circle cx="148.1" cy="381.5" r="5.5" fill="url(#gF)"/>
<circle cx="188.8" cy="383.4" r="5.5" fill="url(#gF)"/>
<circle cx="167.8" cy="410.5" r="6.2" fill="url(#gS)"/>
<circle cx="125.0" cy="383.3" r="6.0" fill="url(#gS)"/>
<circle cx="212.3" cy="387.4" r="6.0" fill="url(#gS)"/>
<circle cx="145.5" cy="355.7" r="5.4" fill="url(#gF)"/>
<circle cx="191.4" cy="356.0" r="5.4" fill="url(#gF)"/>
<circle cx="167.8" cy="350.8" r="6.2" fill="url(#gS)"/>
<circle cx="111.4" cy="355.0" r="6.9" fill="url(#gM)"/>
<g font-family='"Liberation Sans", sans-serif' font-size="11" fill="#262626">
<text x="103.8" y="326.5">N</text>
<text x="76.6" y="360.2">O</text>
<text x="37.6" y="366.5">C</text>
<text x="121" y="401.5">S</text>
<text x="164.4" y="376.5">C</text>
<text x="23.9" y="382"><tspan font-style="italic">R</tspan>-Homocitrate</text>
<text x="176.6" y="246.4"><tspan font-family='"Liberation Serif", serif' font-size="12.5">α</tspan>-70<tspan font-size="7.2" font-weight="bold" dy="-5">Val</tspan></text>
<text x="130.2" y="300.6"><tspan font-family='"Liberation Serif", serif' font-size="12.5">α</tspan>-191<tspan font-size="7.2" font-weight="bold" dy="-5">Gln</tspan></text>
<text x="218.4" y="313.8"><tspan font-family='"Liberation Serif", serif' font-size="12.5">α</tspan>-195<tspan font-size="7.2" font-weight="bold" dy="-5">His</tspan></text>
</g>
<g font-family='"Liberation Sans", sans-serif' font-size="11" fill="#fff" fill-opacity="0.88">
<text x="104" y="360.5">Mo</text>
<text x="218.6" y="365.4">Fe</text>
<text x="145.6" y="342.3">6</text><text x="142.6" y="359.8">7</text><text x="187.6" y="343">2</text><text x="188.4" y="360">3</text>
</g>
<rect x="280" y="222" width="22" height="26.5" fill="#000"/>
<text x="290.9" y="241.6" font-family='"Liberation Serif", serif' font-size="18" fill="#fff" text-anchor="middle" transform="translate(290.9,0) scale(0.9,1) translate(-290.9,0)">D</text>
<g stroke="#222" stroke-width="0.9" fill="none">
<rect x="333.5" y="222.6" width="169.7" height="169.5"/>
<line x1="333.5" y1="386.6" x2="336.0" y2="386.6"/>
<line x1="503.2" y1="386.6" x2="500.7" y2="386.6"/>
<line x1="333.5" y1="366.5" x2="336.0" y2="366.5"/>
<line x1="503.2" y1="366.5" x2="500.7" y2="366.5"/>
<line x1="333.5" y1="346.4" x2="336.0" y2="346.4"/>
<line x1="503.2" y1="346.4" x2="500.7" y2="346.4"/>
<line x1="333.5" y1="326.3" x2="336.0" y2="326.3"/>
<line x1="503.2" y1="326.3" x2="500.7" y2="326.3"/>
<line x1="333.5" y1="306.2" x2="336.0" y2="306.2"/>
<line x1="503.2" y1="306.2" x2="500.7" y2="306.2"/>
<line x1="333.5" y1="286.1" x2="336.0" y2="286.1"/>
<line x1="503.2" y1="286.1" x2="500.7" y2="286.1"/>
<line x1="333.5" y1="266.0" x2="336.0" y2="266.0"/>
<line x1="503.2" y1="266.0" x2="500.7" y2="266.0"/>
<line x1="333.5" y1="245.9" x2="336.0" y2="245.9"/>
<line x1="503.2" y1="245.9" x2="500.7" y2="245.9"/>
<line x1="333.5" y1="225.8" x2="336.0" y2="225.8"/>
<line x1="503.2" y1="225.8" x2="500.7" y2="225.8"/>
<line x1="337.0" y1="392.1" x2="337.0" y2="389.6"/>
<line x1="337.0" y1="222.6" x2="337.0" y2="225.1"/>
<line x1="375.6" y1="392.1" x2="375.6" y2="389.6"/>
<line x1="375.6" y1="222.6" x2="375.6" y2="225.1"/>
<line x1="414.2" y1="392.1" x2="414.2" y2="389.6"/>
<line x1="414.2" y1="222.6" x2="414.2" y2="225.1"/>
<line x1="452.8" y1="392.1" x2="452.8" y2="389.6"/>
<line x1="452.8" y1="222.6" x2="452.8" y2="225.1"/>
<line x1="491.4" y1="392.1" x2="491.4" y2="389.6"/>
<line x1="491.4" y1="222.6" x2="491.4" y2="225.1"/>
</g>
<g font-family='"Liberation Sans", sans-serif' font-size="8.8" fill="#1a1a1a" stroke="#1a1a1a" stroke-width="0.12">
<text x="332" y="389.7" text-anchor="end">0</text>
<text x="332" y="369.6" text-anchor="end">2</text>
<text x="332" y="349.5" text-anchor="end">4</text>
<text x="332" y="329.4" text-anchor="end">6</text>
<text x="332" y="309.3" text-anchor="end">8</text>
<text x="332" y="289.2" text-anchor="end">10</text>
<text x="332" y="269.1" text-anchor="end">12</text>
<text x="332" y="249.0" text-anchor="end">14</text>
<text x="332" y="228.9" text-anchor="end">16</text>
<text x="336.8" y="402.7" text-anchor="middle">0</text>
<text x="375.4" y="402.7" text-anchor="middle">5</text>
<text x="414.0" y="402.7" text-anchor="middle">10</text>
<text x="452.6" y="402.7" text-anchor="middle">15</text>
<text x="491.2" y="402.7" text-anchor="middle">20</text>
<text x="419.1" y="414.9" text-anchor="middle" font-size="9.2">Time (min)</text>
<text transform="translate(318.4,380.4) rotate(-90)" font-size="9.3">Methane/MoFe protein (nmol/nmol)</text>
</g>
<polyline points="337.0,386.6 352.4,368.0 367.9,342.4 398.8,295.6 429.6,267.0 460.5,244.9 491.4,232.3" fill="none" stroke="#111" stroke-width="0.9"/>
<g stroke="#222" stroke-width="0.8">
<line x1="367.9" y1="333.8" x2="367.9" y2="350.9"/>
<line x1="365.6" y1="333.8" x2="370.2" y2="333.8"/>
<line x1="365.6" y1="350.9" x2="370.2" y2="350.9"/>
<line x1="398.8" y1="283.1" x2="398.8" y2="308.2"/>
<line x1="396.5" y1="283.1" x2="401.1" y2="283.1"/>
<line x1="396.5" y1="308.2" x2="401.1" y2="308.2"/>
<line x1="429.6" y1="257.0" x2="429.6" y2="277.1"/>
<line x1="427.3" y1="257.0" x2="431.9" y2="257.0"/>
<line x1="427.3" y1="277.1" x2="431.9" y2="277.1"/>
<line x1="460.5" y1="233.8" x2="460.5" y2="256.0"/>
<line x1="458.2" y1="233.8" x2="462.8" y2="233.8"/>
<line x1="458.2" y1="256.0" x2="462.8" y2="256.0"/>
<line x1="491.4" y1="229.3" x2="491.4" y2="235.3"/>
<line x1="489.1" y1="229.3" x2="493.7" y2="229.3"/>
<line x1="489.1" y1="235.3" x2="493.7" y2="235.3"/>
</g>
<rect x="334.8" y="384.4" width="4.4" height="4.4" fill="#000"/>
<rect x="350.2" y="365.8" width="4.4" height="4.4" fill="#000"/>
<rect x="365.7" y="340.2" width="4.4" height="4.4" fill="#000"/>
<rect x="396.6" y="293.4" width="4.4" height="4.4" fill="#000"/>
<rect x="427.4" y="264.8" width="4.4" height="4.4" fill="#000"/>
<rect x="458.3" y="242.7" width="4.4" height="4.4" fill="#000"/>
<rect x="489.2" y="230.1" width="4.4" height="4.4" fill="#000"/>
<line x1="337" y1="386.6" x2="492" y2="387.8" stroke="#000" stroke-width="2"/>
<rect x="490" y="383.5" width="3.8" height="3.8" fill="none" stroke="#333" stroke-width="0.7"/>
<circle cx="492" cy="388.5" r="1.8" fill="#333"/>
<g font-family='"Liberation Sans", sans-serif' font-size="9" fill="#111" stroke="#111" stroke-width="0.15">
<text x="393" y="239.5" font-size="8.8">α-70<tspan font-size="6" font-weight="bold" dy="-3.3">Ala</tspan><tspan dy="3.3">/α-195</tspan><tspan font-size="6" font-weight="bold" dy="-3.3">Gln</tspan></text>
<text x="435.2" y="345.6">WT MoFe</text>
<text x="435.2" y="356.4">α-70<tspan font-size="6" font-weight="bold" dy="-3.3">Ala</tspan></text>
<text x="435.2" y="367.5">α-195<tspan font-size="6" font-weight="bold" dy="-3.3">Gln</tspan></text>
<text x="435.2" y="378.8">α-70<tspan font-size="6" font-weight="bold" dy="-3.3">Ala</tspan><tspan dy="3.3">/α-191</tspan><tspan font-size="6" font-weight="bold" dy="-3.3">Ala</tspan></text>
</g>
</svg>
</body></html>
